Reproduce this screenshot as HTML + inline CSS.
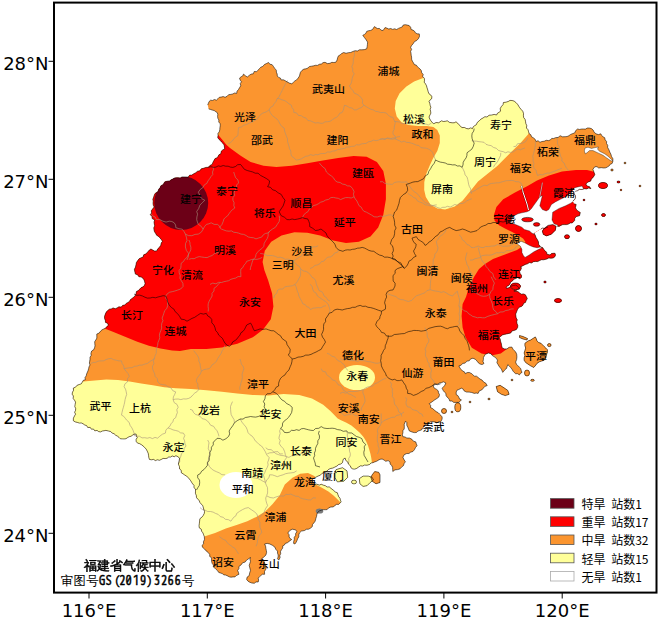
<!DOCTYPE html>
<html><head><meta charset="utf-8"><style>
html,body{margin:0;padding:0;background:#fff;}
svg{display:block;}
text{font-family:"Noto Sans CJK SC","WenQuanYi Zen Hei",sans-serif;font-size:11px;font-weight:500;fill:#000;}
.ax{font-family:"DejaVu Sans","Liberation Sans",sans-serif;font-size:18px;font-weight:normal;fill:#000;}
.lg{font-family:"Noto Sans CJK SC",sans-serif;font-size:12px;font-weight:normal;}
.t1{font-family:"WenQuanYi Zen Hei",sans-serif;font-size:13px;font-weight:normal;stroke:#000;stroke-width:0.5px;}
.t2{font-family:"WenQuanYi Zen Hei Mono","WenQuanYi Zen Hei",sans-serif;font-size:12.5px;font-weight:normal;}
</style></head><body>
<svg width="670" height="621" viewBox="0 0 670 621">
<defs><clipPath id="land"><path d="M207.7,105.0 L208.4,103.2 L209.1,101.5 L210.6,100.2 L212.5,100.5 L214.5,99.5 L216.4,100.2 L217.9,98.8 L219.3,97.3 L221.2,97.1 L223.2,96.5 L225.1,97.3 L227.0,96.3 L228.6,94.7 L230.9,94.4 L232.8,94.0 L234.6,93.0 L236.7,93.4 L237.0,91.2 L238.5,89.5 L239.6,87.6 L240.8,85.8 L240.3,83.5 L241.5,81.8 L240.1,80.1 L239.6,78.0 L241.1,76.8 L242.7,75.9 L243.5,74.1 L245.3,75.7 L247.3,77.0 L249.2,75.4 L251.2,74.1 L253.3,73.8 L254.2,71.5 L256.6,71.7 L258.0,70.2 L259.4,68.7 L260.8,67.2 L262.8,66.4 L264.4,64.6 L266.5,63.5 L268.6,62.5 L269.9,64.2 L272.1,64.7 L273.4,66.4 L274.7,68.4 L276.3,70.2 L276.4,72.2 L277.2,74.0 L277.3,76.0 L278.5,77.4 L280.4,78.1 L281.2,79.9 L283.4,79.8 L285.2,80.7 L287.0,81.8 L289.3,83.1 L291.8,83.8 L293.3,82.4 L294.8,81.0 L296.6,79.9 L298.2,78.0 L299.5,76.0 L299.9,74.1 L300.5,72.2 L302.0,70.4 L303.9,69.1 L306.0,68.8 L307.9,68.0 L309.5,66.5 L311.6,66.2 L313.6,65.8 L315.5,65.3 L317.5,65.4 L319.3,64.3 L321.4,64.0 L323.1,62.6 L325.1,62.3 L327.4,63.6 L330.0,63.3 L331.8,62.3 L333.8,62.5 L335.7,62.3 L337.1,60.1 L337.7,57.5 L338.5,55.8 L340.2,54.9 L341.5,53.6 L343.7,52.5 L346.1,53.3 L348.3,52.7 L350.7,52.5 L352.9,51.5 L355.1,50.7 L357.4,51.0 L359.5,49.8 L361.8,49.8 L364.3,49.6 L366.7,48.8 L367.2,46.6 L367.4,44.4 L367.6,42.1 L365.7,39.2 L364.2,37.3 L362.8,35.3 L364.5,34.4 L365.9,33.2 L366.7,31.4 L368.6,30.7 L370.6,30.4 L372.5,29.5 L374.4,26.6 L377.3,28.5 L379.5,28.5 L381.1,30.2 L383.1,30.5 L385.0,27.6 L386.9,28.1 L388.7,29.0 L390.8,28.5 L392.6,29.4 L394.7,28.8 L396.6,29.5 L398.5,28.4 L400.5,27.6 L402.2,26.9 L403.3,25.0 L405.3,24.7 L407.3,25.1 L409.2,25.6 L410.7,27.3 L411.1,29.5 L413.0,30.1 L414.5,31.2 L415.5,32.9 L417.3,33.8 L419.3,33.9 L419.5,36.4 L418.4,38.7 L416.7,40.5 L414.5,41.6 L413.2,43.7 L411.6,45.5 L410.6,47.3 L411.6,49.5 L410.6,51.3 L411.0,53.2 L411.2,55.2 L411.6,57.1 L411.6,59.2 L412.4,61.1 L413.5,62.9 L414.4,64.6 L416.4,65.2 L417.4,66.7 L418.8,67.9 L420.2,69.1 L421.3,70.6 L421.7,72.8 L423.2,74.4 L422.7,76.5 L424.3,78.2 L424.5,80.2 L424.2,82.2 L425.6,83.9 L426.5,85.9 L427.1,88.0 L427.8,89.9 L428.2,91.9 L429.0,93.8 L430.7,95.0 L431.9,96.7 L431.6,98.7 L430.1,100.0 L429.0,101.5 L429.8,103.4 L430.2,105.4 L430.9,107.3 L430.1,109.2 L430.6,111.2 L430.9,113.1 L429.9,115.0 L429.0,117.0 L429.8,119.0 L430.9,120.8 L432.1,122.5 L433.8,123.7 L436.1,122.5 L438.6,122.8 L441.5,120.8 L443.4,121.5 L445.4,121.3 L447.3,120.8 L449.5,122.4 L452.2,122.8 L454.2,122.8 L456.0,121.8 L457.6,123.1 L458.9,124.7 L460.5,126.0 L461.8,127.6 L464.4,127.4 L466.7,128.6 L468.6,128.8 L470.6,127.9 L472.5,128.6 L473.2,126.8 L474.7,125.7 L476.3,124.7 L477.3,122.4 L479.2,120.8 L481.0,119.1 L483.1,117.9 L484.9,116.7 L487.0,117.0 L489.1,115.2 L491.8,115.0 L494.2,114.4 L496.6,115.0 L497.4,113.2 L499.0,112.3 L500.5,111.2 L500.2,108.6 L501.5,106.3 L503.0,104.7 L503.4,102.5 L505.8,102.2 L508.2,101.5 L510.0,100.4 L512.1,100.5 L514.2,101.1 L515.9,102.5 L517.6,104.2 L518.8,106.3 L519.7,107.7 L521.2,109.5 L522.8,111.2 L523.5,113.5 L523.4,115.6 L523.7,117.6 L525.1,119.3 L525.5,121.3 L525.8,123.5 L526.8,125.7 L526.4,128.0 L528.0,129.6 L528.6,131.8 L529.3,133.8 L530.9,134.8 L531.5,136.8 L533.2,137.7 L535.1,139.2 L536.1,141.5 L538.0,140.7 L540.0,142.3 L541.9,141.5 L544.1,141.2 L546.3,140.3 L548.6,140.6 L550.3,139.9 L551.7,138.4 L553.7,138.5 L555.4,137.7 L558.1,137.4 L560.2,135.7 L562.5,136.8 L565.1,136.7 L567.1,136.5 L568.9,135.7 L570.7,134.4 L572.7,133.6 L574.7,132.9 L575.7,130.6 L577.6,129.0 L579.5,129.5 L581.5,129.1 L583.4,129.0 L585.4,129.1 L587.2,128.1 L589.2,128.0 L591.4,128.6 L593.1,130.0 L594.1,132.2 L596.0,133.8 L598.4,134.6 L600.8,133.8 L601.7,135.5 L603.0,136.8 L604.7,137.7 L605.2,139.8 L606.6,141.5 L606.5,143.5 L607.7,145.3 L607.6,147.3 L609.0,150.0 L609.8,152.1 L610.9,154.2 L611.5,156.4 L612.9,158.8 L612.8,161.6 L612.1,163.5 L610.3,164.2 L609.3,165.8 L607.7,166.8 L605.9,167.8 L603.8,168.0 L601.2,167.7 L598.7,168.0 L597.0,166.7 L594.8,166.8 L592.9,169.3 L594.1,172.6 L594.8,174.5 L593.9,176.2 L592.9,177.7 L591.3,178.9 L590.9,180.9 L587.7,182.2 L585.8,184.1 L587.2,186.1 L589.6,186.7 L590.9,188.7 L588.8,187.9 L586.6,188.9 L584.5,188.7 L582.0,189.5 L579.3,189.3 L577.6,190.7 L575.5,191.2 L574.2,193.8 L575.3,195.6 L575.5,197.7 L574.6,199.6 L572.9,200.9 L573.8,203.7 L576.2,204.5 L575.4,207.7 L576.4,209.4 L577.8,210.9 L580.3,212.5 L579.5,215.8 L576.2,216.6 L574.8,218.3 L574.6,220.6 L572.2,223.0 L570.2,223.0 L568.5,224.1 L566.6,224.6 L564.7,224.6 L562.7,224.6 L560.9,225.4 L559.1,226.4 L557.0,226.0 L548.0,227.0 L546.3,227.5 L544.6,228.5 L542.6,228.0 L541.0,229.0 L534.0,233.0 L535.2,235.2 L536.0,237.5 L537.4,239.7 L538.5,242.0 L538.5,244.3 L540.0,246.0 L540.4,246.9 L542.8,247.7 L543.8,249.5 L545.3,250.9 L546.6,252.3 L546.9,254.2 L550.1,255.0 L551.4,253.6 L553.3,253.3 L555.0,253.3 L555.5,255.0 L555.0,256.6 L553.2,257.9 L550.9,258.2 L548.8,257.9 L546.9,259.0 L543.6,259.8 L541.5,259.7 L539.6,260.6 L537.7,261.6 L535.6,261.4 L533.4,261.7 L531.6,263.0 L529.4,262.6 L527.5,263.8 L525.4,264.4 L523.5,265.4 L520.3,267.0 L521.5,267.7 L520.8,269.8 L519.6,271.6 L520.1,273.6 L521.5,275.3 L521.5,277.4 L519.8,278.7 L517.5,277.6 L515.7,278.6 L513.8,279.3 L512.5,280.9 L510.6,282.1 L509.9,284.2 L508.7,285.6 L506.9,286.3 L506.0,288.0 L508.1,288.1 L509.9,287.1 L511.7,286.0 L513.6,285.4 L515.7,285.1 L517.2,286.1 L518.6,287.4 L519.6,289.0 L517.6,289.5 L515.9,290.7 L513.8,290.9 L515.8,291.4 L517.9,291.6 L519.6,292.9 L521.3,294.2 L523.5,293.9 L525.4,294.8 L526.4,296.7 L527.3,298.6 L526.2,300.5 L525.4,302.5 L523.6,303.3 L522.9,305.2 L521.5,306.4 L519.1,307.3 L517.6,309.3 L516.6,311.7 L515.7,314.1 L515.9,316.0 L516.2,318.0 L517.3,319.8 L516.7,321.8 L517.1,323.7 L517.8,325.6 L517.6,327.6 L516.2,329.7 L513.8,330.5 L511.9,331.0 L510.8,332.9 L508.9,333.4 L506.5,333.9 L504.1,334.4 L502.3,335.0 L500.9,336.2 L499.3,337.3 L500.2,339.1 L500.5,341.2 L501.2,343.1 L501.6,345.5 L502.2,347.9 L504.5,348.9 L507.0,348.9 L509.1,347.3 L511.8,347.0 L513.0,349.2 L514.2,350.6 L515.6,351.8 L516.7,354.2 L516.9,356.9 L516.6,359.6 L515.6,362.1 L516.5,364.2 L518.1,365.9 L519.4,367.2 L520.7,368.5 L521.2,370.5 L522.0,372.4 L520.4,373.4 L519.4,375.0 L517.7,373.7 L515.6,373.7 L514.2,372.5 L513.0,371.1 L511.9,369.0 L510.4,367.2 L509.1,365.9 L507.8,364.6 L507.1,366.5 L506.5,368.5 L505.0,369.6 L504.0,371.1 L502.7,372.4 L501.4,369.1 L500.0,367.6 L498.8,365.9 L497.9,364.3 L496.9,362.7 L497.5,360.1 L495.6,357.6 L494.0,356.6 L492.4,355.6 L490.9,353.7 L488.5,353.0 L485.3,354.3 L484.4,355.9 L483.4,357.6 L483.4,359.5 L483.0,361.6 L484.0,363.4 L482.1,364.6 L480.0,364.0 L478.2,362.7 L477.0,361.0 L475.6,359.5 L473.0,358.2 L470.7,358.9 L469.2,360.8 L466.8,361.1 L465.1,363.1 L462.7,363.4 L461.1,365.2 L458.9,365.9 L460.2,368.5 L461.5,369.7 L462.7,371.1 L464.5,371.9 L465.3,373.7 L467.1,372.6 L469.2,372.4 L471.8,373.7 L474.3,376.2 L476.5,376.2 L478.2,377.5 L480.0,379.0 L482.1,380.1 L483.7,382.1 L485.9,383.3 L487.2,385.6 L484.9,386.3 L483.3,388.2 L481.7,390.0 L479.4,390.8 L478.1,393.4 L476.2,393.0 L474.3,393.4 L471.8,392.5 L469.1,392.1 L466.4,392.0 L464.0,390.8 L463.2,389.0 L461.4,388.2 L458.8,389.5 L456.9,390.2 L456.2,392.1 L456.2,394.6 L457.8,395.6 L458.8,397.2 L459.6,399.0 L461.4,399.8 L460.2,401.2 L458.8,402.4 L456.2,402.4 L453.7,402.4 L452.0,401.0 L449.8,401.1 L449.0,398.8 L447.2,397.2 L446.0,395.5 L445.9,393.4 L444.6,392.2 L443.4,390.8 L442.1,388.2 L443.4,386.9 L444.6,385.6 L445.9,383.0 L443.4,381.8 L441.5,382.7 L439.5,383.0 L437.7,384.1 L435.6,384.3 L433.0,385.6 L434.3,388.2 L436.4,389.2 L438.2,390.8 L438.5,392.8 L439.5,394.6 L438.9,397.0 L436.9,398.5 L434.9,399.7 L433.0,401.1 L431.2,402.5 L429.2,403.7 L430.6,405.3 L430.5,407.5 L432.6,408.6 L434.3,410.1 L436.1,411.6 L438.2,412.7 L439.5,414.0 L440.8,415.3 L442.1,417.0 L442.1,419.1 L440.8,421.7 L438.6,421.6 L436.9,423.0 L435.1,421.9 L433.0,421.7 L430.8,421.6 L429.2,423.0 L427.5,424.3 L425.3,424.3 L424.2,426.4 L422.5,428.0 L421.7,429.8 L419.8,430.5 L417.9,431.1 L416.5,432.5 L414.2,432.6 L412.0,432.0 L409.3,430.9 L408.0,427.7 L406.8,425.2 L406.8,422.5 L405.5,421.2 L404.2,424.5 L404.3,426.8 L404.2,429.0 L402.9,430.7 L402.9,432.8 L402.4,434.8 L402.9,436.7 L405.0,437.0 L406.8,438.0 L409.5,438.1 L411.9,439.3 L413.4,441.2 L415.8,441.9 L416.3,443.8 L417.1,445.7 L415.5,447.5 L414.5,449.6 L412.9,451.5 L410.6,452.2 L408.9,453.6 L406.8,453.5 L404.2,454.7 L402.9,457.3 L404.2,460.0 L405.4,461.8 L404.1,463.6 L403.4,465.7 L401.5,467.1 L399.9,468.9 L397.6,469.6 L394.9,469.9 L392.8,471.5 L392.7,469.5 L392.6,467.6 L391.8,465.7 L390.2,464.1 L389.9,461.8 L388.1,460.6 L385.8,461.3 L384.0,460.0 L382.1,459.0 L380.0,459.3 L378.3,460.2 L376.6,461.3 L374.7,461.9 L373.0,462.7 L371.0,463.0 L369.6,464.5 L367.1,465.2 L364.4,465.1 L362.6,466.1 L360.6,465.8 L358.6,467.1 L356.7,468.4 L354.8,469.1 L352.8,469.0 L351.0,467.8 L350.3,465.8 L348.5,464.2 L347.7,461.9 L345.8,460.4 L345.1,458.0 L343.2,459.3 L342.5,462.6 L340.8,464.0 L338.7,464.5 L336.9,466.1 L334.8,467.1 L332.9,468.1 L330.9,468.4 L328.8,469.3 L327.1,470.9 L325.5,472.1 L323.6,472.6 L321.9,473.5 L320.2,475.3 L318.0,476.1 L315.5,477.4 L312.9,478.7 L312.0,481.0 L314.2,483.8 L316.8,484.2 L319.3,485.1 L321.2,484.3 L323.2,485.1 L325.3,485.7 L327.1,487.0 L329.3,486.9 L330.9,488.3 L333.5,490.3 L335.2,491.9 L337.4,492.8 L338.0,494.8 L338.7,496.7 L340.0,498.2 L340.4,500.1 L341.2,501.9 L338.7,504.4 L336.5,504.4 L334.8,505.7 L333.1,507.0 L330.9,507.0 L328.7,507.9 L327.1,509.6 L325.1,509.7 L323.2,509.6 L321.2,510.3 L319.3,510.9 L317.6,512.5 L316.8,514.7 L316.5,516.5 L315.9,518.2 L315.5,520.0 L315.0,521.4 L313.8,523.0 L312.5,524.5 L312.3,526.6 L310.6,528.1 L308.5,529.2 L306.4,529.3 L304.6,530.5 L301.4,531.1 L299.4,533.0 L298.8,534.9 L298.8,536.9 L297.6,538.8 L296.9,540.8 L296.0,542.5 L294.9,544.0 L293.6,543.4 L293.7,541.4 L294.3,539.5 L294.2,537.3 L295.6,535.6 L295.6,533.5 L296.9,531.8 L295.6,529.8 L292.3,529.2 L289.8,530.5 L287.8,533.0 L289.1,534.7 L289.1,536.9 L290.1,538.5 L291.7,539.5 L289.1,541.4 L287.4,542.8 L285.3,543.4 L284.4,545.1 L282.7,545.9 L282.7,548.1 L281.4,549.8 L280.5,551.6 L280.7,553.7 L279.8,555.5 L280.1,557.5 L278.8,560.1 L277.5,558.8 L278.1,557.0 L278.2,555.0 L277.5,553.1 L277.5,551.1 L275.8,549.4 L274.9,547.2 L272.4,545.3 L269.8,544.0 L267.2,543.4 L264.6,544.0 L265.6,546.1 L265.9,548.5 L266.3,550.4 L266.6,552.4 L265.9,555.0 L263.4,557.5 L260.8,559.5 L262.1,559.8 L263.8,560.9 L264.6,562.7 L265.1,564.8 L265.9,566.9 L265.9,569.1 L264.5,571.5 L264.6,574.3 L262.4,574.2 L260.8,575.6 L259.4,576.8 L258.2,578.1 L258.6,580.0 L258.2,582.0 L256.0,581.9 L254.3,583.3 L251.7,583.0 L249.2,582.0 L247.7,580.9 L246.6,579.4 L247.2,577.0 L249.2,575.6 L249.7,573.0 L250.5,570.4 L249.8,567.9 L249.2,565.3 L249.8,563.4 L250.5,561.4 L250.0,559.5 L250.5,557.5 L248.6,558.8 L246.6,560.1 L245.1,562.1 L242.7,562.7 L241.1,564.9 L238.9,566.5 L238.9,568.7 L237.6,570.4 L238.4,572.3 L238.9,574.3 L236.3,575.6 L235.0,576.9 L233.0,576.9 L231.0,577.2 L229.2,576.8 L227.5,575.9 L225.8,575.1 L223.9,574.9 L222.3,573.6 L220.5,573.0 L218.7,572.4 L217.7,570.8 L216.2,569.5 L214.9,568.1 L213.3,567.0 L213.5,565.1 L212.2,563.5 L211.7,561.8 L211.5,559.9 L211.7,557.8 L209.7,556.5 L209.7,554.5 L208.2,552.4 L206.1,550.9 L204.5,548.9 L202.5,547.3 L202.0,545.4 L203.7,543.8 L203.4,541.9 L204.5,539.4 L204.3,536.6 L203.6,534.7 L202.9,532.8 L201.6,531.2 L201.2,529.2 L199.3,527.9 L199.0,525.8 L199.3,523.4 L199.6,521.1 L199.9,518.7 L201.8,517.3 L203.2,515.4 L204.3,513.3 L204.6,511.4 L203.8,509.7 L203.4,507.9 L202.8,505.7 L201.3,504.1 L199.9,502.5 L199.3,500.6 L197.7,499.2 L196.5,497.5 L196.3,495.4 L195.4,493.3 L195.5,491.2 L195.5,489.0 L193.9,487.7 L194.0,485.4 L192.7,483.9 L191.6,482.3 L190.6,480.6 L189.4,479.0 L188.0,477.5 L186.6,476.1 L184.8,475.1 L183.2,473.9 L181.3,472.8 L181.2,470.3 L179.6,469.0 L179.4,466.5 L178.4,464.2 L178.8,462.2 L179.3,460.2 L179.6,458.2 L177.9,456.7 L175.9,455.7 L174.2,456.8 L172.2,455.9 L170.6,457.1 L168.7,457.0 L167.1,458.3 L165.2,458.6 L163.1,458.4 L161.4,459.4 L159.5,460.3 L157.3,459.8 L155.4,460.6 L153.6,459.4 L151.4,459.8 L149.4,459.4 L148.8,457.4 L148.6,455.3 L148.2,453.3 L147.2,451.1 L146.1,449.1 L144.5,447.3 L143.0,445.9 L141.4,444.7 L139.7,443.7 L137.5,443.1 L136.1,441.3 L136.1,439.3 L137.3,437.6 L136.3,435.9 L136.1,434.0 L134.2,434.2 L132.5,435.2 L131.0,436.3 L129.2,436.7 L127.6,437.6 L125.9,438.7 L124.1,438.9 L122.3,438.9 L120.4,438.8 L119.0,437.4 L117.4,436.1 L115.6,435.2 L114.1,433.8 L112.1,433.1 L110.7,431.6 L108.3,431.0 L105.9,430.4 L104.1,430.8 L102.3,431.1 L100.5,431.9 L98.6,431.6 L97.0,430.4 L94.8,430.9 L93.5,429.0 L91.4,429.2 L90.2,427.4 L87.7,427.5 L86.6,425.6 L84.8,425.0 L83.1,423.8 L81.4,423.0 L79.3,423.1 L77.3,422.4 L75.2,421.9 L73.3,420.7 L73.4,418.2 L74.5,415.9 L75.5,414.2 L74.6,412.2 L75.5,410.4 L75.7,408.6 L74.8,406.6 L75.1,404.4 L75.6,402.2 L74.5,400.2 L73.1,398.4 L73.4,396.0 L72.1,394.2 L72.5,392.2 L73.5,390.3 L73.3,388.1 L75.5,387.2 L77.1,385.3 L79.3,384.5 L81.2,383.8 L82.3,382.1 L83.4,380.3 L85.4,379.7 L85.0,377.6 L86.2,375.9 L86.6,374.0 L88.0,370.8 L88.6,368.8 L89.0,366.8 L90.0,365.0 L89.4,363.1 L89.7,361.1 L90.0,359.2 L90.0,357.2 L91.2,355.4 L90.9,353.4 L91.7,351.0 L93.8,349.6 L94.5,347.7 L95.0,345.8 L94.8,343.8 L94.7,341.7 L95.8,340.0 L96.8,338.1 L96.8,336.1 L96.8,334.0 L99.1,333.1 L100.6,331.1 L102.0,329.8 L103.8,329.0 L105.5,328.2 L106.8,326.6 L108.4,325.3 L107.5,323.2 L105.5,322.4 L105.3,320.4 L104.6,318.6 L104.5,316.6 L105.3,314.1 L106.4,311.8 L107.8,310.5 L109.3,309.2 L111.3,308.9 L113.1,307.9 L115.3,308.8 L117.1,307.9 L118.9,306.8 L121.2,307.1 L122.7,305.3 L124.8,305.0 L126.2,303.4 L128.0,302.5 L129.6,301.2 L130.5,299.5 L132.1,298.4 L133.5,297.3 L135.2,295.7 L136.0,293.7 L136.4,291.5 L138.3,290.6 L139.7,289.1 L141.2,287.6 L143.0,286.8 L144.3,285.6 L145.1,283.8 L144.7,281.8 L144.1,279.9 L142.9,278.2 L141.2,277.0 L138.9,276.7 L137.5,274.7 L135.4,274.1 L134.8,271.7 L134.4,269.3 L135.5,267.1 L136.0,264.8 L136.4,262.5 L137.7,260.6 L139.1,258.8 L141.2,257.7 L143.1,257.1 L143.7,254.8 L145.5,254.1 L147.0,252.9 L148.1,251.4 L149.4,250.1 L150.9,249.0 L152.7,250.0 L154.5,251.0 L156.7,250.9 L157.8,248.8 L159.6,247.1 L160.8,245.3 L161.2,243.1 L162.5,241.3 L161.1,239.3 L159.6,237.4 L158.2,236.2 L156.6,235.2 L155.7,233.5 L154.5,231.8 L154.0,229.8 L153.8,227.7 L154.7,225.9 L154.2,223.8 L154.0,221.9 L154.7,220.0 L152.2,218.6 L151.9,216.3 L150.3,214.7 L151.6,213.0 L151.3,210.8 L152.7,208.8 L154.2,207.0 L153.3,205.2 L153.0,203.2 L153.2,201.2 L152.8,199.2 L153.6,197.3 L154.2,195.4 L155.0,193.6 L156.4,192.5 L158.0,191.5 L158.6,189.4 L160.0,187.7 L160.9,185.7 L162.7,184.9 L163.8,183.4 L164.8,181.8 L167.2,181.2 L169.6,180.9 L171.1,179.8 L172.8,179.0 L174.4,178.0 L176.3,177.8 L178.3,177.7 L180.2,178.0 L182.0,176.9 L184.0,177.0 L186.0,177.0 L188.2,177.1 L189.7,175.1 L191.8,175.1 L193.7,173.8 L195.8,172.7 L197.6,171.2 L199.8,170.8 L201.2,168.8 L203.4,168.3 L205.8,167.4 L208.3,167.3 L209.9,165.5 L212.1,164.4 L212.9,162.4 L213.9,160.5 L215.0,158.6 L216.8,157.9 L218.0,156.5 L218.9,154.8 L220.8,153.8 L221.2,151.3 L222.7,149.9 L224.7,149.0 L224.4,147.0 L224.1,144.9 L222.8,143.2 L221.5,141.9 L220.3,140.5 L218.9,139.3 L217.7,137.5 L218.1,135.5 L217.9,133.5 L219.2,131.8 L219.8,129.8 L219.9,127.7 L220.2,125.7 L220.2,123.8 L218.7,122.0 L218.9,120.0 L217.9,118.3 L217.6,116.5 L217.8,114.6 L217.4,112.8 L215.8,111.7 L214.2,110.6 L212.3,110.1 L210.5,109.5 L208.7,108.9 Z M524.9,343.3 L528.1,340.9 L530.5,340.1 L532.9,338.5 L535.3,336.9 L536.2,338.5 L537.0,340.9 L538.6,342.5 L541.0,343.3 L542.6,344.9 L544.2,346.5 L545.8,348.1 L547.4,349.7 L547.4,352.2 L546.6,354.6 L545.8,357.8 L544.2,360.2 L541.8,361.0 L539.4,361.8 L537.0,363.4 L535.3,365.8 L533.7,367.5 L532.1,366.6 L530.5,365.8 L528.1,364.2 L525.7,362.6 L524.1,360.2 L524.1,357.8 L524.9,355.4 L524.1,353.0 L524.9,350.5 L525.7,348.1 L524.9,345.7 Z M336.1,469.6 L342.5,467.7 L347.0,470.9 L347.7,477.4 L343.8,481.2 L337.4,481.9 L334.8,477.4 L334.8,472.2 Z M359.3,478.7 L363.1,476.1 L368.3,476.1 L372.2,477.4 L373.5,480.0 L370.2,482.5 L367.0,485.7 L363.1,486.4 L359.9,483.8 Z M372.2,474.8 L374.7,471.6 L378.6,472.2 L380.0,474.8 L380.0,482.5 L376.0,483.8 L372.2,481.2 L370.9,477.4 Z M544.0,228.6 L548.0,225.4 L552.9,224.6 L556.1,226.2 L555.3,230.3 L551.3,234.3 L546.4,235.9 L543.2,234.3 L542.4,231.1 Z M519.5,335.5 L523.0,336.5 L527.5,338.5 L527.0,340.0 L523.0,339.0 L519.5,337.5 Z M496.2,386.5 L500.1,385.3 L504.0,387.8 L507.8,390.4 L509.1,394.3 L505.3,395.6 L501.4,394.3 L497.5,391.7 Z M521.7,219.6 a5.8,2.2 0 1,0 11.6,0 a5.8,2.2 0 1,0 -11.6,0 Z M533.4,224.4 a3.2,1.8 0 1,0 6.4,0 a3.2,1.8 0 1,0 -6.4,0 Z M598.5,185.5 a4.5,3 0 1,0 9,0 a4.5,3 0 1,0 -9,0 Z M575.5,228.5 a3,3 0 1,0 6,0 a3,3 0 1,0 -6,0 Z M564.5,236.7 a2.5,2 0 1,0 5,0 a2.5,2 0 1,0 -5,0 Z M547.5,345.1 a1.8,1.5 0 1,0 3.6,0 a1.8,1.5 0 1,0 -3.6,0 Z M524.5,373 a2.5,3 0 1,0 5,0 a2.5,3 0 1,0 -5,0 Z M454.8,407.3 a3,4.5 0 1,0 6,0 a3,4.5 0 1,0 -6,0 Z M441.5,411 a2.5,2.5 0 1,0 5,0 a2.5,2.5 0 1,0 -5,0 Z M351.5,482 a2.5,1.9 0 1,0 5,0 a2.5,1.9 0 1,0 -5,0 Z M554.5,300.5 a3.5,2 0 1,0 7,0 a3.5,2 0 1,0 -7,0 Z M510.5,286.3 a5,3.3 0 1,0 10,0 a5,3.3 0 1,0 -10,0 Z M617,182 a1.5,1 0 1,0 3,0 a1.5,1 0 1,0 -3,0 Z M601.5,215 a2,1.5 0 1,0 4,0 a2,1.5 0 1,0 -4,0 Z M610.8,170 a1.2,1 0 1,0 2.4,0 a1.2,1 0 1,0 -2.4,0 Z M624,163 a1,0.8 0 1,0 2,0 a1,0.8 0 1,0 -2,0 Z M543.8,282 a1.2,1 0 1,0 2.4,0 a1.2,1 0 1,0 -2.4,0 Z M530.7,380.3 a1.8,1 0 1,0 3.6,0 a1.8,1 0 1,0 -3.6,0 Z M511,380 a1,0.8 0 1,0 2,0 a1,0.8 0 1,0 -2,0 Z M469,402 a1,0.8 0 1,0 2,0 a1,0.8 0 1,0 -2,0 Z M487.8,399 a1.2,0.8 0 1,0 2.4,0 a1.2,0.8 0 1,0 -2.4,0 Z M451,412 a1,0.8 0 1,0 2,0 a1,0.8 0 1,0 -2,0 Z M639,186 a1,0.8 0 1,0 2,0 a1,0.8 0 1,0 -2,0 Z M620.2,190 a0.8,0.8 0 1,0 1.6,0 a0.8,0.8 0 1,0 -1.6,0 Z M583,200 a1,0.8 0 1,0 2,0 a1,0.8 0 1,0 -2,0 Z M594.8,224 a1.2,0.9 0 1,0 2.4,0 a1.2,0.9 0 1,0 -2.4,0 Z"/></clipPath><clipPath id="main"><path d="M207.7,105.0 L208.4,103.2 L209.1,101.5 L210.6,100.2 L212.5,100.5 L214.5,99.5 L216.4,100.2 L217.9,98.8 L219.3,97.3 L221.2,97.1 L223.2,96.5 L225.1,97.3 L227.0,96.3 L228.6,94.7 L230.9,94.4 L232.8,94.0 L234.6,93.0 L236.7,93.4 L237.0,91.2 L238.5,89.5 L239.6,87.6 L240.8,85.8 L240.3,83.5 L241.5,81.8 L240.1,80.1 L239.6,78.0 L241.1,76.8 L242.7,75.9 L243.5,74.1 L245.3,75.7 L247.3,77.0 L249.2,75.4 L251.2,74.1 L253.3,73.8 L254.2,71.5 L256.6,71.7 L258.0,70.2 L259.4,68.7 L260.8,67.2 L262.8,66.4 L264.4,64.6 L266.5,63.5 L268.6,62.5 L269.9,64.2 L272.1,64.7 L273.4,66.4 L274.7,68.4 L276.3,70.2 L276.4,72.2 L277.2,74.0 L277.3,76.0 L278.5,77.4 L280.4,78.1 L281.2,79.9 L283.4,79.8 L285.2,80.7 L287.0,81.8 L289.3,83.1 L291.8,83.8 L293.3,82.4 L294.8,81.0 L296.6,79.9 L298.2,78.0 L299.5,76.0 L299.9,74.1 L300.5,72.2 L302.0,70.4 L303.9,69.1 L306.0,68.8 L307.9,68.0 L309.5,66.5 L311.6,66.2 L313.6,65.8 L315.5,65.3 L317.5,65.4 L319.3,64.3 L321.4,64.0 L323.1,62.6 L325.1,62.3 L327.4,63.6 L330.0,63.3 L331.8,62.3 L333.8,62.5 L335.7,62.3 L337.1,60.1 L337.7,57.5 L338.5,55.8 L340.2,54.9 L341.5,53.6 L343.7,52.5 L346.1,53.3 L348.3,52.7 L350.7,52.5 L352.9,51.5 L355.1,50.7 L357.4,51.0 L359.5,49.8 L361.8,49.8 L364.3,49.6 L366.7,48.8 L367.2,46.6 L367.4,44.4 L367.6,42.1 L365.7,39.2 L364.2,37.3 L362.8,35.3 L364.5,34.4 L365.9,33.2 L366.7,31.4 L368.6,30.7 L370.6,30.4 L372.5,29.5 L374.4,26.6 L377.3,28.5 L379.5,28.5 L381.1,30.2 L383.1,30.5 L385.0,27.6 L386.9,28.1 L388.7,29.0 L390.8,28.5 L392.6,29.4 L394.7,28.8 L396.6,29.5 L398.5,28.4 L400.5,27.6 L402.2,26.9 L403.3,25.0 L405.3,24.7 L407.3,25.1 L409.2,25.6 L410.7,27.3 L411.1,29.5 L413.0,30.1 L414.5,31.2 L415.5,32.9 L417.3,33.8 L419.3,33.9 L419.5,36.4 L418.4,38.7 L416.7,40.5 L414.5,41.6 L413.2,43.7 L411.6,45.5 L410.6,47.3 L411.6,49.5 L410.6,51.3 L411.0,53.2 L411.2,55.2 L411.6,57.1 L411.6,59.2 L412.4,61.1 L413.5,62.9 L414.4,64.6 L416.4,65.2 L417.4,66.7 L418.8,67.9 L420.2,69.1 L421.3,70.6 L421.7,72.8 L423.2,74.4 L422.7,76.5 L424.3,78.2 L424.5,80.2 L424.2,82.2 L425.6,83.9 L426.5,85.9 L427.1,88.0 L427.8,89.9 L428.2,91.9 L429.0,93.8 L430.7,95.0 L431.9,96.7 L431.6,98.7 L430.1,100.0 L429.0,101.5 L429.8,103.4 L430.2,105.4 L430.9,107.3 L430.1,109.2 L430.6,111.2 L430.9,113.1 L429.9,115.0 L429.0,117.0 L429.8,119.0 L430.9,120.8 L432.1,122.5 L433.8,123.7 L436.1,122.5 L438.6,122.8 L441.5,120.8 L443.4,121.5 L445.4,121.3 L447.3,120.8 L449.5,122.4 L452.2,122.8 L454.2,122.8 L456.0,121.8 L457.6,123.1 L458.9,124.7 L460.5,126.0 L461.8,127.6 L464.4,127.4 L466.7,128.6 L468.6,128.8 L470.6,127.9 L472.5,128.6 L473.2,126.8 L474.7,125.7 L476.3,124.7 L477.3,122.4 L479.2,120.8 L481.0,119.1 L483.1,117.9 L484.9,116.7 L487.0,117.0 L489.1,115.2 L491.8,115.0 L494.2,114.4 L496.6,115.0 L497.4,113.2 L499.0,112.3 L500.5,111.2 L500.2,108.6 L501.5,106.3 L503.0,104.7 L503.4,102.5 L505.8,102.2 L508.2,101.5 L510.0,100.4 L512.1,100.5 L514.2,101.1 L515.9,102.5 L517.6,104.2 L518.8,106.3 L519.7,107.7 L521.2,109.5 L522.8,111.2 L523.5,113.5 L523.4,115.6 L523.7,117.6 L525.1,119.3 L525.5,121.3 L525.8,123.5 L526.8,125.7 L526.4,128.0 L528.0,129.6 L528.6,131.8 L529.3,133.8 L530.9,134.8 L531.5,136.8 L533.2,137.7 L535.1,139.2 L536.1,141.5 L538.0,140.7 L540.0,142.3 L541.9,141.5 L544.1,141.2 L546.3,140.3 L548.6,140.6 L550.3,139.9 L551.7,138.4 L553.7,138.5 L555.4,137.7 L558.1,137.4 L560.2,135.7 L562.5,136.8 L565.1,136.7 L567.1,136.5 L568.9,135.7 L570.7,134.4 L572.7,133.6 L574.7,132.9 L575.7,130.6 L577.6,129.0 L579.5,129.5 L581.5,129.1 L583.4,129.0 L585.4,129.1 L587.2,128.1 L589.2,128.0 L591.4,128.6 L593.1,130.0 L594.1,132.2 L596.0,133.8 L598.4,134.6 L600.8,133.8 L601.7,135.5 L603.0,136.8 L604.7,137.7 L605.2,139.8 L606.6,141.5 L606.5,143.5 L607.7,145.3 L607.6,147.3 L609.0,150.0 L609.8,152.1 L610.9,154.2 L611.5,156.4 L612.9,158.8 L612.8,161.6 L612.1,163.5 L610.3,164.2 L609.3,165.8 L607.7,166.8 L605.9,167.8 L603.8,168.0 L601.2,167.7 L598.7,168.0 L597.0,166.7 L594.8,166.8 L592.9,169.3 L594.1,172.6 L594.8,174.5 L593.9,176.2 L592.9,177.7 L591.3,178.9 L590.9,180.9 L587.7,182.2 L585.8,184.1 L587.2,186.1 L589.6,186.7 L590.9,188.7 L588.8,187.9 L586.6,188.9 L584.5,188.7 L582.0,189.5 L579.3,189.3 L577.6,190.7 L575.5,191.2 L574.2,193.8 L575.3,195.6 L575.5,197.7 L574.6,199.6 L572.9,200.9 L573.8,203.7 L576.2,204.5 L575.4,207.7 L576.4,209.4 L577.8,210.9 L580.3,212.5 L579.5,215.8 L576.2,216.6 L574.8,218.3 L574.6,220.6 L572.2,223.0 L570.2,223.0 L568.5,224.1 L566.6,224.6 L564.7,224.6 L562.7,224.6 L560.9,225.4 L559.1,226.4 L557.0,226.0 L548.0,227.0 L546.3,227.5 L544.6,228.5 L542.6,228.0 L541.0,229.0 L534.0,233.0 L535.2,235.2 L536.0,237.5 L537.4,239.7 L538.5,242.0 L538.5,244.3 L540.0,246.0 L540.4,246.9 L542.8,247.7 L543.8,249.5 L545.3,250.9 L546.6,252.3 L546.9,254.2 L550.1,255.0 L551.4,253.6 L553.3,253.3 L555.0,253.3 L555.5,255.0 L555.0,256.6 L553.2,257.9 L550.9,258.2 L548.8,257.9 L546.9,259.0 L543.6,259.8 L541.5,259.7 L539.6,260.6 L537.7,261.6 L535.6,261.4 L533.4,261.7 L531.6,263.0 L529.4,262.6 L527.5,263.8 L525.4,264.4 L523.5,265.4 L520.3,267.0 L521.5,267.7 L520.8,269.8 L519.6,271.6 L520.1,273.6 L521.5,275.3 L521.5,277.4 L519.8,278.7 L517.5,277.6 L515.7,278.6 L513.8,279.3 L512.5,280.9 L510.6,282.1 L509.9,284.2 L508.7,285.6 L506.9,286.3 L506.0,288.0 L508.1,288.1 L509.9,287.1 L511.7,286.0 L513.6,285.4 L515.7,285.1 L517.2,286.1 L518.6,287.4 L519.6,289.0 L517.6,289.5 L515.9,290.7 L513.8,290.9 L515.8,291.4 L517.9,291.6 L519.6,292.9 L521.3,294.2 L523.5,293.9 L525.4,294.8 L526.4,296.7 L527.3,298.6 L526.2,300.5 L525.4,302.5 L523.6,303.3 L522.9,305.2 L521.5,306.4 L519.1,307.3 L517.6,309.3 L516.6,311.7 L515.7,314.1 L515.9,316.0 L516.2,318.0 L517.3,319.8 L516.7,321.8 L517.1,323.7 L517.8,325.6 L517.6,327.6 L516.2,329.7 L513.8,330.5 L511.9,331.0 L510.8,332.9 L508.9,333.4 L506.5,333.9 L504.1,334.4 L502.3,335.0 L500.9,336.2 L499.3,337.3 L500.2,339.1 L500.5,341.2 L501.2,343.1 L501.6,345.5 L502.2,347.9 L504.5,348.9 L507.0,348.9 L509.1,347.3 L511.8,347.0 L513.0,349.2 L514.2,350.6 L515.6,351.8 L516.7,354.2 L516.9,356.9 L516.6,359.6 L515.6,362.1 L516.5,364.2 L518.1,365.9 L519.4,367.2 L520.7,368.5 L521.2,370.5 L522.0,372.4 L520.4,373.4 L519.4,375.0 L517.7,373.7 L515.6,373.7 L514.2,372.5 L513.0,371.1 L511.9,369.0 L510.4,367.2 L509.1,365.9 L507.8,364.6 L507.1,366.5 L506.5,368.5 L505.0,369.6 L504.0,371.1 L502.7,372.4 L501.4,369.1 L500.0,367.6 L498.8,365.9 L497.9,364.3 L496.9,362.7 L497.5,360.1 L495.6,357.6 L494.0,356.6 L492.4,355.6 L490.9,353.7 L488.5,353.0 L485.3,354.3 L484.4,355.9 L483.4,357.6 L483.4,359.5 L483.0,361.6 L484.0,363.4 L482.1,364.6 L480.0,364.0 L478.2,362.7 L477.0,361.0 L475.6,359.5 L473.0,358.2 L470.7,358.9 L469.2,360.8 L466.8,361.1 L465.1,363.1 L462.7,363.4 L461.1,365.2 L458.9,365.9 L460.2,368.5 L461.5,369.7 L462.7,371.1 L464.5,371.9 L465.3,373.7 L467.1,372.6 L469.2,372.4 L471.8,373.7 L474.3,376.2 L476.5,376.2 L478.2,377.5 L480.0,379.0 L482.1,380.1 L483.7,382.1 L485.9,383.3 L487.2,385.6 L484.9,386.3 L483.3,388.2 L481.7,390.0 L479.4,390.8 L478.1,393.4 L476.2,393.0 L474.3,393.4 L471.8,392.5 L469.1,392.1 L466.4,392.0 L464.0,390.8 L463.2,389.0 L461.4,388.2 L458.8,389.5 L456.9,390.2 L456.2,392.1 L456.2,394.6 L457.8,395.6 L458.8,397.2 L459.6,399.0 L461.4,399.8 L460.2,401.2 L458.8,402.4 L456.2,402.4 L453.7,402.4 L452.0,401.0 L449.8,401.1 L449.0,398.8 L447.2,397.2 L446.0,395.5 L445.9,393.4 L444.6,392.2 L443.4,390.8 L442.1,388.2 L443.4,386.9 L444.6,385.6 L445.9,383.0 L443.4,381.8 L441.5,382.7 L439.5,383.0 L437.7,384.1 L435.6,384.3 L433.0,385.6 L434.3,388.2 L436.4,389.2 L438.2,390.8 L438.5,392.8 L439.5,394.6 L438.9,397.0 L436.9,398.5 L434.9,399.7 L433.0,401.1 L431.2,402.5 L429.2,403.7 L430.6,405.3 L430.5,407.5 L432.6,408.6 L434.3,410.1 L436.1,411.6 L438.2,412.7 L439.5,414.0 L440.8,415.3 L442.1,417.0 L442.1,419.1 L440.8,421.7 L438.6,421.6 L436.9,423.0 L435.1,421.9 L433.0,421.7 L430.8,421.6 L429.2,423.0 L427.5,424.3 L425.3,424.3 L424.2,426.4 L422.5,428.0 L421.7,429.8 L419.8,430.5 L417.9,431.1 L416.5,432.5 L414.2,432.6 L412.0,432.0 L409.3,430.9 L408.0,427.7 L406.8,425.2 L406.8,422.5 L405.5,421.2 L404.2,424.5 L404.3,426.8 L404.2,429.0 L402.9,430.7 L402.9,432.8 L402.4,434.8 L402.9,436.7 L405.0,437.0 L406.8,438.0 L409.5,438.1 L411.9,439.3 L413.4,441.2 L415.8,441.9 L416.3,443.8 L417.1,445.7 L415.5,447.5 L414.5,449.6 L412.9,451.5 L410.6,452.2 L408.9,453.6 L406.8,453.5 L404.2,454.7 L402.9,457.3 L404.2,460.0 L405.4,461.8 L404.1,463.6 L403.4,465.7 L401.5,467.1 L399.9,468.9 L397.6,469.6 L394.9,469.9 L392.8,471.5 L392.7,469.5 L392.6,467.6 L391.8,465.7 L390.2,464.1 L389.9,461.8 L388.1,460.6 L385.8,461.3 L384.0,460.0 L382.1,459.0 L380.0,459.3 L378.3,460.2 L376.6,461.3 L374.7,461.9 L373.0,462.7 L371.0,463.0 L369.6,464.5 L367.1,465.2 L364.4,465.1 L362.6,466.1 L360.6,465.8 L358.6,467.1 L356.7,468.4 L354.8,469.1 L352.8,469.0 L351.0,467.8 L350.3,465.8 L348.5,464.2 L347.7,461.9 L345.8,460.4 L345.1,458.0 L343.2,459.3 L342.5,462.6 L340.8,464.0 L338.7,464.5 L336.9,466.1 L334.8,467.1 L332.9,468.1 L330.9,468.4 L328.8,469.3 L327.1,470.9 L325.5,472.1 L323.6,472.6 L321.9,473.5 L320.2,475.3 L318.0,476.1 L315.5,477.4 L312.9,478.7 L312.0,481.0 L314.2,483.8 L316.8,484.2 L319.3,485.1 L321.2,484.3 L323.2,485.1 L325.3,485.7 L327.1,487.0 L329.3,486.9 L330.9,488.3 L333.5,490.3 L335.2,491.9 L337.4,492.8 L338.0,494.8 L338.7,496.7 L340.0,498.2 L340.4,500.1 L341.2,501.9 L338.7,504.4 L336.5,504.4 L334.8,505.7 L333.1,507.0 L330.9,507.0 L328.7,507.9 L327.1,509.6 L325.1,509.7 L323.2,509.6 L321.2,510.3 L319.3,510.9 L317.6,512.5 L316.8,514.7 L316.5,516.5 L315.9,518.2 L315.5,520.0 L315.0,521.4 L313.8,523.0 L312.5,524.5 L312.3,526.6 L310.6,528.1 L308.5,529.2 L306.4,529.3 L304.6,530.5 L301.4,531.1 L299.4,533.0 L298.8,534.9 L298.8,536.9 L297.6,538.8 L296.9,540.8 L296.0,542.5 L294.9,544.0 L293.6,543.4 L293.7,541.4 L294.3,539.5 L294.2,537.3 L295.6,535.6 L295.6,533.5 L296.9,531.8 L295.6,529.8 L292.3,529.2 L289.8,530.5 L287.8,533.0 L289.1,534.7 L289.1,536.9 L290.1,538.5 L291.7,539.5 L289.1,541.4 L287.4,542.8 L285.3,543.4 L284.4,545.1 L282.7,545.9 L282.7,548.1 L281.4,549.8 L280.5,551.6 L280.7,553.7 L279.8,555.5 L280.1,557.5 L278.8,560.1 L277.5,558.8 L278.1,557.0 L278.2,555.0 L277.5,553.1 L277.5,551.1 L275.8,549.4 L274.9,547.2 L272.4,545.3 L269.8,544.0 L267.2,543.4 L264.6,544.0 L265.6,546.1 L265.9,548.5 L266.3,550.4 L266.6,552.4 L265.9,555.0 L263.4,557.5 L260.8,559.5 L262.1,559.8 L263.8,560.9 L264.6,562.7 L265.1,564.8 L265.9,566.9 L265.9,569.1 L264.5,571.5 L264.6,574.3 L262.4,574.2 L260.8,575.6 L259.4,576.8 L258.2,578.1 L258.6,580.0 L258.2,582.0 L256.0,581.9 L254.3,583.3 L251.7,583.0 L249.2,582.0 L247.7,580.9 L246.6,579.4 L247.2,577.0 L249.2,575.6 L249.7,573.0 L250.5,570.4 L249.8,567.9 L249.2,565.3 L249.8,563.4 L250.5,561.4 L250.0,559.5 L250.5,557.5 L248.6,558.8 L246.6,560.1 L245.1,562.1 L242.7,562.7 L241.1,564.9 L238.9,566.5 L238.9,568.7 L237.6,570.4 L238.4,572.3 L238.9,574.3 L236.3,575.6 L235.0,576.9 L233.0,576.9 L231.0,577.2 L229.2,576.8 L227.5,575.9 L225.8,575.1 L223.9,574.9 L222.3,573.6 L220.5,573.0 L218.7,572.4 L217.7,570.8 L216.2,569.5 L214.9,568.1 L213.3,567.0 L213.5,565.1 L212.2,563.5 L211.7,561.8 L211.5,559.9 L211.7,557.8 L209.7,556.5 L209.7,554.5 L208.2,552.4 L206.1,550.9 L204.5,548.9 L202.5,547.3 L202.0,545.4 L203.7,543.8 L203.4,541.9 L204.5,539.4 L204.3,536.6 L203.6,534.7 L202.9,532.8 L201.6,531.2 L201.2,529.2 L199.3,527.9 L199.0,525.8 L199.3,523.4 L199.6,521.1 L199.9,518.7 L201.8,517.3 L203.2,515.4 L204.3,513.3 L204.6,511.4 L203.8,509.7 L203.4,507.9 L202.8,505.7 L201.3,504.1 L199.9,502.5 L199.3,500.6 L197.7,499.2 L196.5,497.5 L196.3,495.4 L195.4,493.3 L195.5,491.2 L195.5,489.0 L193.9,487.7 L194.0,485.4 L192.7,483.9 L191.6,482.3 L190.6,480.6 L189.4,479.0 L188.0,477.5 L186.6,476.1 L184.8,475.1 L183.2,473.9 L181.3,472.8 L181.2,470.3 L179.6,469.0 L179.4,466.5 L178.4,464.2 L178.8,462.2 L179.3,460.2 L179.6,458.2 L177.9,456.7 L175.9,455.7 L174.2,456.8 L172.2,455.9 L170.6,457.1 L168.7,457.0 L167.1,458.3 L165.2,458.6 L163.1,458.4 L161.4,459.4 L159.5,460.3 L157.3,459.8 L155.4,460.6 L153.6,459.4 L151.4,459.8 L149.4,459.4 L148.8,457.4 L148.6,455.3 L148.2,453.3 L147.2,451.1 L146.1,449.1 L144.5,447.3 L143.0,445.9 L141.4,444.7 L139.7,443.7 L137.5,443.1 L136.1,441.3 L136.1,439.3 L137.3,437.6 L136.3,435.9 L136.1,434.0 L134.2,434.2 L132.5,435.2 L131.0,436.3 L129.2,436.7 L127.6,437.6 L125.9,438.7 L124.1,438.9 L122.3,438.9 L120.4,438.8 L119.0,437.4 L117.4,436.1 L115.6,435.2 L114.1,433.8 L112.1,433.1 L110.7,431.6 L108.3,431.0 L105.9,430.4 L104.1,430.8 L102.3,431.1 L100.5,431.9 L98.6,431.6 L97.0,430.4 L94.8,430.9 L93.5,429.0 L91.4,429.2 L90.2,427.4 L87.7,427.5 L86.6,425.6 L84.8,425.0 L83.1,423.8 L81.4,423.0 L79.3,423.1 L77.3,422.4 L75.2,421.9 L73.3,420.7 L73.4,418.2 L74.5,415.9 L75.5,414.2 L74.6,412.2 L75.5,410.4 L75.7,408.6 L74.8,406.6 L75.1,404.4 L75.6,402.2 L74.5,400.2 L73.1,398.4 L73.4,396.0 L72.1,394.2 L72.5,392.2 L73.5,390.3 L73.3,388.1 L75.5,387.2 L77.1,385.3 L79.3,384.5 L81.2,383.8 L82.3,382.1 L83.4,380.3 L85.4,379.7 L85.0,377.6 L86.2,375.9 L86.6,374.0 L88.0,370.8 L88.6,368.8 L89.0,366.8 L90.0,365.0 L89.4,363.1 L89.7,361.1 L90.0,359.2 L90.0,357.2 L91.2,355.4 L90.9,353.4 L91.7,351.0 L93.8,349.6 L94.5,347.7 L95.0,345.8 L94.8,343.8 L94.7,341.7 L95.8,340.0 L96.8,338.1 L96.8,336.1 L96.8,334.0 L99.1,333.1 L100.6,331.1 L102.0,329.8 L103.8,329.0 L105.5,328.2 L106.8,326.6 L108.4,325.3 L107.5,323.2 L105.5,322.4 L105.3,320.4 L104.6,318.6 L104.5,316.6 L105.3,314.1 L106.4,311.8 L107.8,310.5 L109.3,309.2 L111.3,308.9 L113.1,307.9 L115.3,308.8 L117.1,307.9 L118.9,306.8 L121.2,307.1 L122.7,305.3 L124.8,305.0 L126.2,303.4 L128.0,302.5 L129.6,301.2 L130.5,299.5 L132.1,298.4 L133.5,297.3 L135.2,295.7 L136.0,293.7 L136.4,291.5 L138.3,290.6 L139.7,289.1 L141.2,287.6 L143.0,286.8 L144.3,285.6 L145.1,283.8 L144.7,281.8 L144.1,279.9 L142.9,278.2 L141.2,277.0 L138.9,276.7 L137.5,274.7 L135.4,274.1 L134.8,271.7 L134.4,269.3 L135.5,267.1 L136.0,264.8 L136.4,262.5 L137.7,260.6 L139.1,258.8 L141.2,257.7 L143.1,257.1 L143.7,254.8 L145.5,254.1 L147.0,252.9 L148.1,251.4 L149.4,250.1 L150.9,249.0 L152.7,250.0 L154.5,251.0 L156.7,250.9 L157.8,248.8 L159.6,247.1 L160.8,245.3 L161.2,243.1 L162.5,241.3 L161.1,239.3 L159.6,237.4 L158.2,236.2 L156.6,235.2 L155.7,233.5 L154.5,231.8 L154.0,229.8 L153.8,227.7 L154.7,225.9 L154.2,223.8 L154.0,221.9 L154.7,220.0 L152.2,218.6 L151.9,216.3 L150.3,214.7 L151.6,213.0 L151.3,210.8 L152.7,208.8 L154.2,207.0 L153.3,205.2 L153.0,203.2 L153.2,201.2 L152.8,199.2 L153.6,197.3 L154.2,195.4 L155.0,193.6 L156.4,192.5 L158.0,191.5 L158.6,189.4 L160.0,187.7 L160.9,185.7 L162.7,184.9 L163.8,183.4 L164.8,181.8 L167.2,181.2 L169.6,180.9 L171.1,179.8 L172.8,179.0 L174.4,178.0 L176.3,177.8 L178.3,177.7 L180.2,178.0 L182.0,176.9 L184.0,177.0 L186.0,177.0 L188.2,177.1 L189.7,175.1 L191.8,175.1 L193.7,173.8 L195.8,172.7 L197.6,171.2 L199.8,170.8 L201.2,168.8 L203.4,168.3 L205.8,167.4 L208.3,167.3 L209.9,165.5 L212.1,164.4 L212.9,162.4 L213.9,160.5 L215.0,158.6 L216.8,157.9 L218.0,156.5 L218.9,154.8 L220.8,153.8 L221.2,151.3 L222.7,149.9 L224.7,149.0 L224.4,147.0 L224.1,144.9 L222.8,143.2 L221.5,141.9 L220.3,140.5 L218.9,139.3 L217.7,137.5 L218.1,135.5 L217.9,133.5 L219.2,131.8 L219.8,129.8 L219.9,127.7 L220.2,125.7 L220.2,123.8 L218.7,122.0 L218.9,120.0 L217.9,118.3 L217.6,116.5 L217.8,114.6 L217.4,112.8 L215.8,111.7 L214.2,110.6 L212.3,110.1 L210.5,109.5 L208.7,108.9 Z"/></clipPath></defs>
<rect width="670" height="621" fill="#fff"/>
<g clip-path="url(#land)">
<rect x="0" y="0" width="670" height="621" fill="#fb952f"/>
<path d="M423.8,77.7 L414.1,81.6 L406.4,86.4 L399.6,93.2 L395.7,100.9 L394.8,108.6 L396.7,116.4 L401.5,122.2 L408.3,125.1 L418.0,126.0 L426.7,126.0 L433.4,127.0 L437.3,129.9 L439.8,135.4 L439.8,143.0 L437.4,150.8 L433.0,158.5 L429.5,166.0 L426.3,173.8 L424.3,182.0 L424.2,190.0 L425.8,197.0 L430.6,204.7 L437.4,208.6 L445.1,209.5 L454.8,206.6 L462.5,200.8 L470.2,191.2 L478.0,181.5 L487.6,173.8 L497.3,166.0 L505.0,158.3 L512.8,150.6 L520.5,142.9 L528.2,134.2 L532.0,125.0 L532.0,60.0 L425.0,60.0 Z" fill="#ffff99"/>
<path d="M60.0,381.0 L83.2,381.4 L94.8,380.5 L106.4,379.5 L118.0,380.1 L129.6,381.4 L141.2,383.4 L152.8,385.3 L164.3,387.2 L175.9,388.2 L190.9,389.0 L206.4,390.2 L221.9,391.8 L237.3,393.5 L252.8,395.0 L268.2,395.5 L283.7,394.0 L299.2,395.0 L312.0,398.5 L323.2,404.7 L330.4,411.0 L337.7,418.5 L341.0,420.2 L346.0,422.5 L351.4,425.5 L355.6,429.0 L359.8,432.8 L363.5,437.0 L366.1,441.2 L368.0,445.5 L369.2,449.5 L370.5,454.0 L371.3,457.9 L372.0,463.0 L371.0,472.0 L374.0,479.0 L373.0,486.0 L360.0,495.0 L345.0,503.0 L341.0,503.0 L337.4,499.3 L333.5,495.4 L328.4,491.5 L321.9,487.7 L315.5,484.5 L317.6,478.6 L313.8,475.7 L308.0,472.9 L300.2,473.8 L292.5,477.7 L284.8,484.4 L279.6,495.4 L272.4,504.3 L265.2,511.5 L256.3,516.9 L247.3,521.3 L236.6,524.9 L225.8,528.5 L215.1,533.0 L204.3,536.6 L190.0,540.0 L60.0,540.0 Z" fill="#ffff99"/>
<ellipse cx="357" cy="377.5" rx="18" ry="12.6" fill="#ffff99"/>
<path d="M60.0,330.0 L60.0,128.0 L212.0,128.0 L220.0,137.0 L226.6,145.1 L230.0,148.0 L240.3,155.5 L250.6,161.9 L263.5,165.8 L276.4,167.0 L291.9,165.8 L307.3,163.2 L322.8,160.6 L338.2,158.0 L353.7,156.0 L366.6,156.8 L376.9,161.9 L383.3,170.9 L385.9,183.8 L385.9,199.3 L383.3,214.7 L378.2,227.6 L370.5,236.6 L358.9,241.8 L346.0,243.1 L333.1,240.5 L320.2,235.4 L307.3,232.8 L294.4,232.3 L281.5,235.4 L271.2,241.8 L264.8,250.8 L262.6,262.0 L264.4,270.3 L268.2,280.6 L272.1,293.5 L273.4,306.4 L270.8,319.3 L263.1,329.6 L252.8,337.3 L237.3,343.8 L221.9,347.6 L206.4,348.9 L190.9,348.9 L180.0,351.0 L172.1,350.5 L160.5,348.6 L148.9,345.7 L137.3,341.8 L125.7,337.0 L114.1,332.2 L101.5,327.3 Z" fill="#fe0000"/>
<path d="M640.0,172.0 L593.0,171.5 L587.0,170.0 L576.0,170.0 L562.0,171.5 L549.0,175.4 L537.0,180.5 L528.0,185.8 L515.0,192.6 L503.2,199.3 L496.4,207.1 L494.0,214.8 L494.5,220.5 L499.0,225.2 L505.0,228.5 L511.7,231.7 L518.0,235.2 L523.0,238.5 L525.5,242.0 L523.0,246.0 L517.0,250.0 L509.0,253.0 L501.0,256.0 L493.0,259.0 L485.0,264.0 L479.0,269.0 L474.0,277.0 L469.0,287.0 L466.0,297.0 L462.6,304.0 L461.6,316.0 L462.6,327.6 L465.5,337.3 L471.8,347.7 L481.5,353.5 L491.2,355.5 L500.8,353.5 L508.5,347.7 L512.4,341.9 L516.0,335.0 L560.0,330.0 L640.0,250.0 Z" fill="#fe0000"/>
<circle cx="181.2" cy="203" r="27" fill="#6c0017"/>
<ellipse cx="236" cy="485" rx="16.5" ry="13" fill="#fff"/>
</g>
<g clip-path="url(#main)"><path d="M510.0,222.5 L512.7,216.5 L517.9,213.8 L521.8,212.8 L526.9,211.8 L529.5,210.6 L531.5,208.5 L533.4,205.8 L537.2,200.6 L539.8,196.8 L542.4,195.5 L541.1,200.6 L539.8,205.8 L542.4,209.6 L546.2,210.9 L548.8,209.6 L551.4,204.5 L555.3,201.9 L560.4,199.3 L565.6,196.8 L570.7,192.9 L574.6,187.7 L582.0,186.0 L590.0,200.0 L577.2,198.0 L574.6,200.6 L570.7,203.2 L565.6,205.8 L559.1,208.4 L552.7,212.2 L552.0,220.0 L554.0,223.8 L557.8,225.1 L560.0,232.0 L545.0,232.0 L537.0,236.0 L534.0,234.0 L532.0,233.2 L529.5,231.0 L524.3,229.5 L521.8,227.2 L516.6,225.0 Z M517.1,242.9 L521.1,241.3 L525.1,242.9 L529.2,245.3 L533.2,246.9 L537.2,247.7 L540.4,246.9 L542.8,247.7 L538.8,249.3 L534.0,251.7 L529.2,255.0 L525.1,257.4 L523.5,255.8 L521.9,252.5 L521.9,249.3 L520.3,246.1 L517.9,244.5 Z M585.0,148.0 L588.0,147.2 L591.5,148.4 L595.0,147.6 L598.5,147.0 L597.5,149.0 L599.5,151.3 L602.0,152.4 L605.0,154.0 L608.0,156.2 L611.0,159.0 L612.5,160.3 L612.5,161.3 L610.5,160.6 L607.0,158.2 L603.0,155.3 L599.0,153.4 L596.0,152.0 L593.0,150.6 L589.5,150.6 L587.0,152.8 L585.3,153.8 L584.3,151.0 Z" fill="#fff" stroke="#000" stroke-opacity="0.5" stroke-width="0.7"/>
<polyline points="521.5,186 523,192 525,198 527,204 528.5,210" fill="none" stroke="#000" stroke-opacity="0.45" stroke-width="2"/><polyline points="521.5,186 523,192 525,198 527,204 528.5,210" fill="none" stroke="#fff" stroke-width="1"/><polyline points="542.4,182.6 541.5,188 540.5,193 539.8,197" fill="none" stroke="#000" stroke-opacity="0.4" stroke-width="1.5"/><polyline points="542.4,182.6 541.5,188 540.5,193 539.8,197" fill="none" stroke="#fff" stroke-width="0.6"/></g>
<path d="M524.9,343.3 L528.1,340.9 L530.5,340.1 L532.9,338.5 L535.3,336.9 L536.2,338.5 L537.0,340.9 L538.6,342.5 L541.0,343.3 L542.6,344.9 L544.2,346.5 L545.8,348.1 L547.4,349.7 L547.4,352.2 L546.6,354.6 L545.8,357.8 L544.2,360.2 L541.8,361.0 L539.4,361.8 L537.0,363.4 L535.3,365.8 L533.7,367.5 L532.1,366.6 L530.5,365.8 L528.1,364.2 L525.7,362.6 L524.1,360.2 L524.1,357.8 L524.9,355.4 L524.1,353.0 L524.9,350.5 L525.7,348.1 L524.9,345.7 Z" fill="#fb952f"/><path d="M336.1,469.6 L342.5,467.7 L347.0,470.9 L347.7,477.4 L343.8,481.2 L337.4,481.9 L334.8,477.4 L334.8,472.2 Z" fill="#ffff99"/><path d="M359.3,478.7 L363.1,476.1 L368.3,476.1 L372.2,477.4 L373.5,480.0 L370.2,482.5 L367.0,485.7 L363.1,486.4 L359.9,483.8 Z" fill="#ffff99"/><path d="M372.2,474.8 L374.7,471.6 L378.6,472.2 L380.0,474.8 L380.0,482.5 L376.0,483.8 L372.2,481.2 L370.9,477.4 Z" fill="#fb952f"/><path d="M544.0,228.6 L548.0,225.4 L552.9,224.6 L556.1,226.2 L555.3,230.3 L551.3,234.3 L546.4,235.9 L543.2,234.3 L542.4,231.1 Z" fill="#fe0000"/><path d="M519.5,335.5 L523.0,336.5 L527.5,338.5 L527.0,340.0 L523.0,339.0 L519.5,337.5 Z" fill="#fb952f"/><path d="M496.2,386.5 L500.1,385.3 L504.0,387.8 L507.8,390.4 L509.1,394.3 L505.3,395.6 L501.4,394.3 L497.5,391.7 Z" fill="#fb952f"/><path d="M521.7,219.6 a5.8,2.2 0 1,0 11.6,0 a5.8,2.2 0 1,0 -11.6,0 Z" fill="#fe0000"/><path d="M533.4,224.4 a3.2,1.8 0 1,0 6.4,0 a3.2,1.8 0 1,0 -6.4,0 Z" fill="#fe0000"/><path d="M598.5,185.5 a4.5,3 0 1,0 9,0 a4.5,3 0 1,0 -9,0 Z" fill="#fe0000"/><path d="M575.5,228.5 a3,3 0 1,0 6,0 a3,3 0 1,0 -6,0 Z" fill="#fe0000"/><path d="M564.5,236.7 a2.5,2 0 1,0 5,0 a2.5,2 0 1,0 -5,0 Z" fill="#fe0000"/><path d="M547.5,345.1 a1.8,1.5 0 1,0 3.6,0 a1.8,1.5 0 1,0 -3.6,0 Z" fill="#fb952f"/><path d="M524.5,373 a2.5,3 0 1,0 5,0 a2.5,3 0 1,0 -5,0 Z" fill="#fb952f"/><path d="M454.8,407.3 a3,4.5 0 1,0 6,0 a3,4.5 0 1,0 -6,0 Z" fill="#fb952f"/><path d="M441.5,411 a2.5,2.5 0 1,0 5,0 a2.5,2.5 0 1,0 -5,0 Z" fill="#fb952f"/><path d="M351.5,482 a2.5,1.9 0 1,0 5,0 a2.5,1.9 0 1,0 -5,0 Z" fill="#ffff99"/><path d="M554.5,300.5 a3.5,2 0 1,0 7,0 a3.5,2 0 1,0 -7,0 Z" fill="#fe0000"/><path d="M510.5,286.3 a5,3.3 0 1,0 10,0 a5,3.3 0 1,0 -10,0 Z" fill="#fe0000"/><path d="M617,182 a1.5,1 0 1,0 3,0 a1.5,1 0 1,0 -3,0 Z" fill="#fe0000"/><path d="M601.5,215 a2,1.5 0 1,0 4,0 a2,1.5 0 1,0 -4,0 Z" fill="#fe0000"/><path d="M610.8,170 a1.2,1 0 1,0 2.4,0 a1.2,1 0 1,0 -2.4,0 Z" fill="#fb952f"/><path d="M624,163 a1,0.8 0 1,0 2,0 a1,0.8 0 1,0 -2,0 Z" fill="#fb952f"/><path d="M543.8,282 a1.2,1 0 1,0 2.4,0 a1.2,1 0 1,0 -2.4,0 Z" fill="#fe0000"/><path d="M530.7,380.3 a1.8,1 0 1,0 3.6,0 a1.8,1 0 1,0 -3.6,0 Z" fill="#fb952f"/><path d="M511,380 a1,0.8 0 1,0 2,0 a1,0.8 0 1,0 -2,0 Z" fill="#fb952f"/><path d="M469,402 a1,0.8 0 1,0 2,0 a1,0.8 0 1,0 -2,0 Z" fill="#fb952f"/><path d="M487.8,399 a1.2,0.8 0 1,0 2.4,0 a1.2,0.8 0 1,0 -2.4,0 Z" fill="#fb952f"/><path d="M451,412 a1,0.8 0 1,0 2,0 a1,0.8 0 1,0 -2,0 Z" fill="#fb952f"/><path d="M639,186 a1,0.8 0 1,0 2,0 a1,0.8 0 1,0 -2,0 Z" fill="#fb952f"/><path d="M620.2,190 a0.8,0.8 0 1,0 1.6,0 a0.8,0.8 0 1,0 -1.6,0 Z" fill="#fb952f"/><path d="M583,200 a1,0.8 0 1,0 2,0 a1,0.8 0 1,0 -2,0 Z" fill="#fe0000"/><path d="M594.8,224 a1.2,0.9 0 1,0 2.4,0 a1.2,0.9 0 1,0 -2.4,0 Z" fill="#fe0000"/>
<ellipse cx="319.5" cy="511" rx="3.8" ry="2.6" fill="#7a7a7a"/>
<g fill="none" stroke-linejoin="round"><path d="M228.2,143.7 L230.5,142.6 L232.3,140.9 L233.9,138.8 L235.6,137.0 L237.8,135.7 L238.1,133.0 L238.2,130.3 L238.6,127.6 L241.5,127.0 L243.9,125.1 L246.7,124.4 L249.4,123.0 L252.2,121.9 L254.8,120.4 L257.3,119.1 L258.8,116.8 L260.5,114.6 L262.8,113.1 L266.2,111.9 L269.2,109.9" stroke="#a8927a" stroke-width="0.6"/><path d="M269.2,109.9 L270.3,107.4 L273.0,106.0 L274.1,103.5 L276.1,101.6 L276.9,98.9 L278.9,97.0 L280.5,93.8 L282.1,90.6 L283.6,87.4 L285.3,84.2 L287.5,80.5" stroke="#a8927a" stroke-width="0.6"/><path d="M269.2,109.9 L270.3,112.8 L272.1,115.3 L274.5,117.3 L277.0,119.0 L278.7,121.3 L280.0,124.0 L281.7,126.4 L284.2,128.0 L284.6,131.0 L285.5,133.8 L286.6,136.6 L287.5,138.9 L287.6,141.5 L288.2,143.9 L289.0,146.3 L289.5,148.7 L290.8,151.0 L290.9,153.5 L291.4,155.9 L293.9,157.8 L296.2,160.0" stroke="#a8927a" stroke-width="0.6"/><path d="M277.0,98.5 L279.5,98.7 L281.8,99.8 L284.2,100.4 L286.7,101.8 L288.9,103.8 L291.4,105.2 L292.0,107.7 L293.7,109.8 L293.8,112.5 L296.6,112.9 L298.4,115.4 L301.3,115.7 L303.5,117.3 L306.1,118.1 L307.9,120.5 L310.7,120.9 L313.1,122.1 L315.5,123.0 L318.0,122.7 L320.3,123.2 L322.8,123.3 L325.0,121.8 L327.7,121.7 L330.3,121.2 L332.5,119.7 L334.4,118.3 L336.6,117.2 L338.4,115.6 L339.7,113.3 L342.1,112.5 L343.3,110.2 L343.9,107.7 L344.5,105.2 L347.1,106.1 L349.4,107.6 L352.2,108.0 L354.2,110.0 L356.8,109.8 L359.0,108.4 L361.4,107.6 L363.9,105.2" stroke="#a8927a" stroke-width="0.6"/><path d="M354.5,51.0 L354.5,53.7 L354.3,56.3 L353.3,58.8 L353.3,61.5 L353.0,64.1 L351.8,66.6 L352.8,68.9 L352.7,71.6 L354.2,73.8 L352.9,76.1 L352.1,78.5 L351.8,81.1 L351.0,83.7 L349.4,85.9 L350.9,88.3 L352.9,90.5 L354.2,93.1 L356.9,94.2 L359.4,95.8 L361.4,98.0 L362.7,100.2 L362.3,103.1 L363.9,105.2" stroke="#a8927a" stroke-width="0.6"/><path d="M363.9,105.2 L366.2,106.6 L368.5,108.0 L370.9,109.3 L373.5,110.0 L375.7,111.4 L378.2,111.7 L380.6,112.6 L383.2,112.5 L386.0,112.9 L388.1,114.8 L390.1,116.8 L392.9,117.3 L393.9,119.8 L395.3,122.1" stroke="#a8927a" stroke-width="0.6"/><path d="M296.2,160.0 L298.8,159.7 L301.2,158.9 L303.5,157.5 L305.7,156.3 L308.3,155.9 L310.6,154.6 L313.2,155.4 L315.5,154.6 L318.0,154.8 L320.3,153.7 L322.8,153.5 L325.3,153.4 L327.6,151.9 L330.2,152.2 L332.5,151.1 L335.0,150.9 L337.3,149.7 L339.7,149.4 L342.1,148.7 L344.6,148.4 L346.8,147.0 L349.4,147.0 L351.8,146.3 L354.3,146.2 L356.5,144.7 L359.1,145.0 L361.4,143.9 L363.9,143.6 L366.4,143.3 L368.6,141.7 L371.1,141.4 L373.3,140.1 L376.1,140.7 L378.5,140.1 L380.8,139.0 L384.0,138.9 L387.2,138.3 L390.4,139.0 L392.7,137.9 L395.3,138.0 L397.6,136.8 L400.1,136.6" stroke="#a8927a" stroke-width="0.6"/><path d="M394.5,121.4 L397.0,121.7 L399.5,122.0 L401.7,123.5 L404.2,123.8 L406.6,123.0 L409.0,123.9 L411.4,123.6 L413.8,123.0 L416.2,123.8 L418.6,124.1 L421.1,123.5 L423.5,124.4 L426.0,124.0 L428.3,125.0 L431.5,123.0" stroke="#a8927a" stroke-width="0.6"/><path d="M380.0,139.5 L382.4,138.7 L385.0,139.7 L387.2,137.9 L389.7,138.3 L392.0,139.3 L394.7,138.8 L397.0,139.7 L399.3,140.7 L401.5,142.1 L404.2,141.1 L406.5,142.4 L409.0,142.5 L411.4,143.1 L413.9,144.0 L416.2,145.1 L418.9,145.5 L420.9,147.6 L423.5,148.0 L426.1,148.1 L428.5,149.1 L430.7,150.4 L432.7,152.4 L433.5,155.0 L434.5,157.5 L435.6,160.0" stroke="#a8927a" stroke-width="0.6"/><path d="M395.3,122.1 L394.8,124.5 L394.3,127.0 L394.1,129.5 L392.9,131.8 L393.1,134.4 L395.3,136.3 L395.3,139.0" stroke="#a8927a" stroke-width="0.6"/><path d="M471.8,140.7 L474.2,141.1 L476.6,141.2 L479.0,141.7 L481.4,141.9 L484.0,142.3 L486.0,144.3 L488.5,145.2 L491.1,145.6 L493.4,147.4 L496.3,148.3 L498.4,150.4 L500.8,151.2 L503.3,151.7 L505.6,152.8 L507.9,151.8 L510.6,152.4 L513.1,151.9 L515.3,150.4 L517.5,149.0 L520.3,149.8 L522.5,148.8 L524.9,148.0" stroke="#a8927a" stroke-width="0.6"/><path d="M462.1,167.3 L463.4,169.7 L464.5,172.2 L465.1,174.9 L467.0,177.0 L467.7,179.4 L468.2,181.8 L468.6,184.2 L469.4,186.6 L470.7,188.9 L471.0,191.5 L471.8,193.9" stroke="#a8927a" stroke-width="0.6"/><path d="M406.6,181.8 L408.4,184.2 L410.0,186.8 L411.8,189.2 L413.8,191.4 L416.2,192.9 L418.3,194.7 L419.8,197.1 L421.8,198.9 L423.5,201.1 L425.7,202.8 L428.3,203.5 L430.6,204.8 L433.1,205.6 L435.5,206.5 L437.9,207.7 L440.4,208.4 L442.7,207.3 L445.2,207.3 L447.5,206.3 L450.2,207.1 L452.5,205.9 L454.7,204.5 L457.4,205.3 L459.5,203.4 L462.1,203.5 L464.7,202.6 L466.8,200.8 L469.3,199.7 L471.8,198.7" stroke="#a8927a" stroke-width="0.6"/><path d="M493.5,167.3 L494.8,164.6 L497.0,162.6 L498.4,160.0 L499.5,157.7 L500.6,155.4 L500.8,152.8" stroke="#a8927a" stroke-width="0.6"/><path d="M380.0,181.8 L382.6,181.7 L384.8,183.4 L387.2,183.9 L389.7,184.2 L392.3,184.4 L394.4,182.6 L396.8,182.0 L399.3,181.8 L401.7,182.2 L404.2,182.1 L406.6,181.8" stroke="#a8927a" stroke-width="0.6"/><path d="M513.5,146.6 L516.0,146.3 L517.5,143.7 L520.0,143.5 L522.9,143.0 L525.6,141.7 L528.0,138.0" stroke="#a8927a" stroke-width="0.6"/><path d="M535.2,141.5 L535.4,144.1 L535.2,146.6 L534.6,149.0 L534.1,151.4 L533.5,153.8 L532.8,156.2 L533.2,158.6 L533.0,161.1 L534.0,163.4 L533.5,165.9 L534.0,168.3 L536.0,170.3 L536.7,173.0 L537.6,175.6" stroke="#a8927a" stroke-width="0.6"/><path d="M557.0,137.0 L557.4,139.4 L557.4,141.9 L557.6,144.4 L559.3,146.5 L559.4,149.0 L559.4,151.5 L560.0,153.9 L560.6,156.3 L562.0,158.5 L561.8,161.1 L564.1,163.0 L565.2,165.8 L566.6,168.3 L569.0,170.7" stroke="#a8927a" stroke-width="0.6"/><path d="M537.6,175.6 L539.9,174.5 L542.5,174.9 L544.8,173.8 L547.2,173.1 L549.7,173.1 L552.1,172.1 L554.5,171.2 L556.9,170.2 L559.4,169.2 L561.8,168.3" stroke="#a8927a" stroke-width="0.6"/><path d="M470.0,192.5 L472.6,191.6 L475.1,190.5 L477.3,188.9 L479.7,187.7 L482.0,186.2 L484.5,185.2 L487.1,185.7 L489.3,184.0 L491.6,183.4 L494.1,183.2 L496.5,182.8 L499.0,182.8 L501.4,182.0 L503.8,181.4 L506.1,180.7 L508.6,180.6 L511.1,180.4 L513.6,180.7 L515.9,181.7 L518.4,181.7 L520.7,182.8 L522.0,185.0 L522.4,187.5 L522.4,190.1 L523.1,192.5" stroke="#a8927a" stroke-width="0.6"/><path d="M470.0,260.1 L472.6,260.0 L474.9,258.8 L477.4,258.2 L479.9,257.6 L481.9,255.7 L484.5,255.3 L487.0,255.1 L489.5,255.2 L491.9,254.8 L494.2,253.8 L496.5,252.7 L499.0,252.9 L501.4,252.2 L504.0,252.8 L506.1,250.7 L508.6,250.6 L511.1,250.4 L513.9,249.5 L515.8,247.1 L518.3,245.6" stroke="#a8927a" stroke-width="0.6"/><path d="M213.0,167.0 L213.5,169.5 L212.5,172.0 L212.8,174.5 L211.0,176.5 L209.6,178.8 L208.0,180.9 L206.8,183.4 L204.3,184.9 L203.1,187.4 L200.3,189.4 L198.3,192.2 L199.9,195.4 L201.5,198.6 L204.8,200.3 L202.3,202.7 L199.9,205.1 L198.7,208.5 L196.7,211.5 L197.6,214.2 L196.9,216.9 L196.7,219.6 L197.4,222.0 L198.3,224.4 L201.2,226.3 L203.1,229.2" stroke="#a8927a" stroke-width="0.6"/><path d="M151.0,213.0 L152.2,215.7 L155.1,217.0 L156.4,219.6 L159.9,219.6 L162.9,221.2 L166.1,222.1 L169.3,221.2 L171.9,221.5 L174.2,222.8 L175.6,225.0 L175.8,227.6 L178.9,228.7 L182.2,229.2 L184.0,231.5 L185.4,234.1 L188.5,235.6 L191.9,235.7 L195.0,234.4 L198.3,234.1 L201.3,232.2 L203.1,229.2 L204.5,226.6 L206.4,224.4 L208.9,223.8 L211.2,222.8 L214.2,224.4 L217.6,224.4 L220.9,227.6" stroke="#a8927a" stroke-width="0.6"/><path d="M219.3,227.3 L221.4,229.0 L223.8,230.0 L226.3,230.9 L229.0,231.2 L231.5,230.9 L233.8,232.3 L236.2,232.5 L238.6,233.1 L241.0,234.1 L243.7,234.4 L246.1,235.5 L248.3,237.0 L250.9,237.5 L253.6,237.8 L256.0,238.9 L258.9,237.9 L261.8,237.0 L263.2,234.9 L265.3,233.5 L267.9,233.0 L269.6,231.2 L272.4,229.1 L275.4,227.3 L277.3,224.4 L279.2,221.5 L279.6,218.6 L279.2,215.7" stroke="#a8927a" stroke-width="0.6"/><path d="M233.7,172.0 L234.6,174.9 L235.6,177.7 L237.9,179.9 L238.6,182.9 L236.5,185.1 L236.6,188.3 L234.8,190.6 L234.0,192.9 L234.6,195.5 L232.9,197.7 L232.9,200.2 L234.1,202.7 L233.8,205.5 L234.8,208.0 L232.6,209.6 L230.6,211.5 L229.0,213.8 L227.6,215.8 L225.6,217.3 L223.9,219.0 L223.2,221.5 L221.8,224.8 L219.3,227.3" stroke="#a8927a" stroke-width="0.6"/><path d="M185.4,234.1 L186.4,237.2 L187.0,240.5 L185.5,243.6 L185.4,247.0 L186.4,250.5 L188.6,253.4 L188.3,256.8 L187.0,260.0" stroke="#a8927a" stroke-width="0.6"/><path d="M269.6,231.2 L268.2,233.4 L268.1,236.2 L267.2,238.6 L265.7,240.8 L264.2,243.3 L263.8,246.4 L261.8,248.6 L259.5,250.1 L257.6,252.1 L256.0,254.3 L255.5,257.3 L253.2,259.4 L252.2,262.1 L251.5,264.7 L250.6,267.3 L250.2,270.0" stroke="#a8927a" stroke-width="0.6"/><path d="M319.3,162.9 L321.0,165.0 L322.9,167.0 L325.1,168.6 L326.4,172.0 L329.0,174.4 L331.3,175.9 L333.4,177.7 L334.8,180.2 L337.1,182.0 L340.1,182.5 L342.5,184.1 L345.1,184.5 L347.5,185.9 L350.2,186.0 L352.6,188.6 L354.1,191.8 L353.4,194.2 L354.1,196.7" stroke="#a8927a" stroke-width="0.6"/><path d="M302.4,217.6 L303.7,215.1 L305.6,213.0 L308.1,211.5 L309.3,209.0 L311.6,207.3 L313.6,205.5 L316.2,204.9 L318.5,203.7 L320.6,202.2 L323.2,201.5 L325.7,200.0 L328.6,199.4 L330.9,197.6 L333.5,197.4 L335.9,198.0 L338.3,198.3 L340.6,199.6 L343.0,198.5 L345.6,197.6 L348.3,197.6 L351.3,198.0 L354.1,196.7" stroke="#a8927a" stroke-width="0.6"/><path d="M354.1,196.7 L355.3,199.0 L356.9,201.0 L358.0,203.4 L359.0,205.7 L361.2,207.1 L362.3,209.3 L363.8,211.2 L366.5,212.2 L369.0,213.6 L371.5,215.0 L374.1,216.8 L377.3,217.0 L380.1,216.0 L383.0,216.4 L385.9,215.8 L388.7,214.9 L391.7,214.9 L393.2,216.4" stroke="#a8927a" stroke-width="0.6"/><path d="M407.7,193.2 L409.6,194.7 L411.8,195.8 L413.5,197.5 L415.9,198.3 L417.2,200.7 L419.3,201.9 L422.4,202.9 L425.1,204.8 L428.1,205.1 L430.9,206.2 L433.8,205.3 L436.7,204.8" stroke="#a8927a" stroke-width="0.6"/><path d="M446.1,230.0 L444.6,232.8 L442.3,234.8 L439.7,236.4 L438.2,239.0 L436.4,241.3 L436.9,244.6 L438.0,247.7 L437.5,250.2 L436.5,252.3 L434.8,254.2 L434.7,257.0 L433.3,259.4 L433.2,262.2 L433.0,265.6 L431.6,268.6 L430.9,271.5 L430.9,274.5 L431.6,277.5 L430.7,280.4 L430.4,283.5 L430.3,286.5 L430.0,289.6" stroke="#a8927a" stroke-width="0.6"/><path d="M459.0,234.8 L461.2,236.8 L462.2,239.7 L465.0,241.7 L467.0,244.5 L469.3,245.2 L471.0,247.3 L473.5,247.7 L475.9,246.9 L478.3,246.1 L480.6,247.3 L483.1,247.7 L485.7,246.5 L488.5,246.6 L491.2,246.1 L494.5,245.9 L497.6,244.5 L500.3,245.1 L502.8,246.4 L505.7,246.1 L509.1,246.0 L512.1,244.5 L514.5,243.5 L517.0,242.9" stroke="#a8927a" stroke-width="0.6"/><path d="M478.3,247.7 L479.0,251.0 L479.9,254.2 L480.7,257.0 L481.5,259.7 L483.1,262.2 L485.1,264.1 L486.1,266.6 L488.0,268.6 L489.9,271.5 L492.8,273.5 L493.7,277.0 L496.0,279.9" stroke="#a8927a" stroke-width="0.6"/><path d="M467.0,252.5 L466.1,255.7 L465.4,259.0 L466.3,261.7 L467.0,264.6 L468.6,267.0 L469.1,269.5 L470.2,271.6 L471.9,273.5 L472.1,276.0 L471.1,278.6 L472.0,281.1 L472.2,283.6 L472.6,286.1 L471.9,288.7 L471.9,291.2" stroke="#a8927a" stroke-width="0.6"/><path d="M491.2,276.7 L492.7,279.9 L494.4,283.1 L493.2,286.2 L492.8,289.6 L490.8,291.8 L489.6,294.4 L489.8,297.8 L491.2,300.9 L492.4,304.0 L492.8,307.3 L493.7,309.9 L495.9,311.6 L497.6,313.7" stroke="#a8927a" stroke-width="0.6"/><path d="M471.9,291.2 L475.2,292.5 L478.3,294.4 L480.8,295.8 L483.5,296.3 L486.4,296.0 L489.6,294.4" stroke="#a8927a" stroke-width="0.6"/><path d="M459.0,305.7 L462.2,308.9 L464.1,310.8 L466.9,311.5 L468.6,313.7 L470.7,315.0 L472.7,316.4 L475.1,317.0 L477.5,317.8 L479.9,317.4 L482.4,317.8 L484.8,317.8 L487.9,316.3 L491.2,315.3 L494.4,314.5 L497.6,313.7 L500.0,312.0 L503.1,311.9 L505.7,310.5 L508.4,310.1 L511.0,309.0 L513.7,308.9" stroke="#a8927a" stroke-width="0.6"/><path d="M430.0,289.6 L433.1,290.6 L436.4,291.2 L438.8,291.5 L441.2,292.4 L443.8,291.6 L446.1,292.8 L449.1,294.7 L452.5,296.0 L454.8,293.4 L457.4,291.2 L458.0,294.4 L459.0,297.6 L459.6,300.3 L459.3,303.0 L459.0,305.7 L459.6,308.4 L459.7,311.1 L459.1,313.9 L459.7,316.6 L459.7,319.0 L458.9,321.5 L459.7,323.9 L457.3,326.3" stroke="#a8927a" stroke-width="0.6"/><path d="M188.9,240.0 L189.9,242.3 L190.1,244.8 L190.9,247.2 L190.8,249.7 L189.7,252.3 L188.2,254.8 L187.0,257.4 L184.9,259.1 L183.4,261.6 L181.2,263.2 L181.0,265.7 L180.8,268.2 L179.1,270.4 L179.2,272.9 L180.2,275.4 L179.9,278.2 L181.2,280.6 L182.9,283.3 L183.1,286.4 L180.7,289.0 L177.3,290.2 L174.8,291.0 L172.2,291.7 L169.6,292.2 L167.3,293.8 L165.7,296.0" stroke="#a8927a" stroke-width="0.6"/><path d="M188.9,259.3 L191.4,258.6 L194.2,258.7 L196.6,257.4 L199.2,256.6 L201.7,257.0 L204.3,257.4 L207.1,257.6 L209.6,256.4 L212.1,255.5 L214.4,253.6 L217.2,252.7 L220.0,251.6" stroke="#a8927a" stroke-width="0.6"/><path d="M220.0,282.5 L218.1,284.6 L216.3,286.7 L214.0,288.3 L214.0,291.0 L212.0,293.3 L212.1,296.0 L210.7,298.5 L209.2,301.0 L208.2,303.8 L208.1,306.4 L208.4,308.9 L208.2,311.5" stroke="#a8927a" stroke-width="0.6"/><path d="M165.7,296.0 L165.9,298.5 L167.5,300.7 L167.5,303.2 L167.6,305.7 L166.8,308.5 L164.7,310.6 L163.8,313.4 L163.0,315.8 L162.1,318.1 L163.0,320.8 L161.8,323.1 L161.5,325.6 L161.7,328.1 L160.9,330.5 L159.9,332.8 L159.4,335.2 L159.8,337.8 L159.0,340.1 L158.0,342.4 L157.6,345.5 L156.7,348.0 L156.3,350.6 L156.2,353.3 L155.1,355.8 L154.3,358.3 L153.3,360.8 L154.0,363.7 L152.5,366.1 L152.6,368.8 L153.5,371.3 L154.7,373.8 L155.1,376.4 L157.3,378.6 L157.8,382.0 L160.2,384.1 L162.9,384.7 L165.6,385.1 L167.9,386.7 L170.9,387.8 L172.8,390.7 L175.7,391.9 L174.7,394.4 L173.4,396.9 L173.1,399.6" stroke="#a8927a" stroke-width="0.6"/><path d="M210.0,284.4 L212.8,283.1 L215.9,283.8 L218.6,282.3 L221.6,282.5 L223.9,281.7 L226.3,281.2 L228.7,280.7 L230.9,279.3 L233.2,278.6 L235.8,278.0 L238.1,276.5 L240.9,276.7 L240.8,274.1 L240.7,271.6 L240.9,269.0 L242.9,267.5 L243.9,265.2 L245.6,263.5 L246.7,261.3 L249.2,260.5 L251.7,259.4 L254.4,259.3 L257.1,259.3 L259.7,258.6 L262.2,257.4" stroke="#a8927a" stroke-width="0.6"/><path d="M260.2,253.5 L262.7,253.8 L265.0,254.6 L267.3,255.6 L269.9,255.5 L272.6,255.6 L275.2,256.3 L277.6,257.4 L280.4,257.2 L283.0,258.0 L285.4,259.3 L288.2,259.1 L290.7,260.0 L293.1,261.3 L296.0,259.4 L298.9,257.4 L301.5,256.1 L303.0,253.8 L304.7,251.6 L307.5,249.5 L310.5,247.7 L313.0,246.9 L315.7,246.8 L318.2,245.8" stroke="#a8927a" stroke-width="0.6"/><path d="M293.1,261.3 L295.3,262.9 L297.0,265.1 L299.4,266.5 L300.8,269.0 L300.6,271.5 L300.6,273.9 L300.2,276.4 L298.9,278.6 L297.3,281.7 L295.0,284.4 L292.6,285.7 L290.0,286.1 L287.3,286.4 L284.7,286.9 L282.8,289.1 L279.9,289.0 L277.6,290.2 L276.9,293.1 L274.6,295.2 L273.8,298.0" stroke="#a8927a" stroke-width="0.6"/><path d="M300.8,269.0 L303.1,270.9 L306.1,271.4 L308.6,272.9 L310.4,274.9 L311.9,277.2 L314.3,278.6 L315.7,280.8 L316.2,283.5 L317.1,285.9 L318.2,288.3 L319.0,290.7 L321.8,291.6 L323.2,293.6 L324.0,296.0 L326.2,297.4 L327.6,299.8 L330.0,301.0" stroke="#a8927a" stroke-width="0.6"/><path d="M295.0,284.4 L296.0,286.6 L296.7,289.0 L297.4,291.3 L298.4,293.6 L298.9,296.0 L300.2,298.6 L301.7,301.1 L302.8,303.8 L305.2,304.6 L306.7,306.6 L309.1,307.5 L310.5,309.6 L312.9,308.2 L315.5,307.9 L318.2,307.6 L321.0,307.8 L323.3,306.3 L325.9,305.7" stroke="#a8927a" stroke-width="0.6"/><path d="M310.0,268.6 L312.6,267.4 L314.8,265.5 L317.7,264.8 L319.9,263.7 L321.4,261.6 L324.0,261.1 L325.5,259.0 L327.8,257.2 L330.8,256.8 L333.2,255.1 L334.6,253.0 L337.4,252.3 L338.6,250.0" stroke="#a8927a" stroke-width="0.6"/><path d="M310.0,284.1 L312.0,286.3 L312.7,289.2 L313.9,291.8 L316.3,293.2 L317.4,296.0 L319.7,297.6 L322.6,299.6 L325.5,301.5 L328.1,304.0 L329.3,307.3 L330.1,310.2 L329.3,313.1" stroke="#a8927a" stroke-width="0.6"/><path d="M387.3,293.8 L390.2,294.7 L393.1,295.7 L395.9,296.6 L398.1,298.5 L400.8,299.6 L403.5,299.8 L405.9,300.8 L408.5,301.5 L411.9,300.3 L414.3,297.6 L416.6,295.7 L419.4,294.8 L422.1,293.8 L424.9,292.8 L427.0,290.5 L430.0,289.9" stroke="#a8927a" stroke-width="0.6"/><path d="M327.0,353.2 L329.6,354.3 L331.8,356.1 L334.5,357.0 L336.6,359.0 L338.2,360.9 L340.7,361.5 L342.3,363.4 L344.3,364.8 L345.6,368.1 L348.2,370.6" stroke="#a8927a" stroke-width="0.6"/><path d="M321.2,368.6 L322.5,371.2 L325.6,371.9 L326.7,374.7 L328.9,376.4 L330.8,377.8 L332.3,379.9 L334.8,380.6 L336.6,382.2 L338.0,384.7 L340.9,385.6 L342.4,388.0 L343.7,390.6 L346.4,391.8 L348.2,393.8 L351.0,394.6 L353.5,396.1 L355.9,397.6" stroke="#a8927a" stroke-width="0.6"/><path d="M240.0,359.0 L240.8,361.5 L241.3,364.1 L243.0,366.2 L243.9,368.6 L243.0,371.4 L242.1,374.3 L242.4,377.3 L241.9,380.2 L241.0,382.6 L240.5,385.0 L239.8,387.4 L240.0,390.0" stroke="#a8927a" stroke-width="0.6"/><path d="M340.0,358.6 L342.8,359.8 L345.9,359.0 L348.7,360.2 L351.6,360.6 L354.5,360.6 L357.4,361.4 L360.3,360.4 L363.2,360.6 L365.6,361.0 L368.0,361.7 L370.5,361.8 L372.9,362.5 L375.5,363.2 L378.0,363.2 L380.6,362.5" stroke="#a8927a" stroke-width="0.6"/><path d="M340.0,393.4 L342.8,392.2 L345.9,393.3 L348.6,391.4 L351.6,391.5 L354.6,391.5 L357.5,391.2 L360.4,390.5 L363.2,389.6 L365.4,388.1 L367.7,387.0 L370.3,386.5 L372.9,385.7 L374.8,383.8 L377.3,382.9 L379.5,381.5 L381.7,380.1 L384.0,379.0 L386.4,378.0" stroke="#a8927a" stroke-width="0.6"/><path d="M363.2,389.6 L362.8,392.6 L364.0,395.4 L364.7,398.3 L365.1,401.2 L364.1,403.6 L362.8,405.8 L361.4,408.1 L361.3,410.8" stroke="#a8927a" stroke-width="0.6"/><path d="M390.2,381.8 L391.5,384.1 L391.0,386.7 L392.5,388.9 L392.2,391.5 L392.7,393.9 L392.3,396.5 L394.0,398.7 L394.1,401.2 L394.6,404.2 L396.5,406.4 L398.0,408.9 L398.6,411.8 L401.3,413.7 L401.8,416.6" stroke="#a8927a" stroke-width="0.6"/><path d="M425.0,327.7 L425.6,330.1 L427.1,332.2 L427.1,334.7 L427.4,337.2 L428.9,339.3 L428.7,342.0 L427.0,344.2 L426.2,346.7 L425.0,349.0 L425.9,351.3 L425.3,353.9 L425.7,356.4 L427.0,358.6 L427.4,361.2 L429.0,363.4 L429.2,366.1 L430.8,368.3 L431.5,370.7 L430.8,373.1 L430.9,375.6 L430.8,378.0 L433.4,380.5 L434.7,383.8" stroke="#a8927a" stroke-width="0.6"/><path d="M405.7,397.3 L406.7,399.6 L405.9,402.3 L406.3,404.7 L407.6,407.0 L410.3,407.2 L412.2,409.5 L414.7,410.2 L417.3,410.8 L419.0,413.0 L421.8,414.0 L423.1,416.6" stroke="#a8927a" stroke-width="0.6"/><path d="M90.6,363.5 L93.1,362.5 L95.8,362.3 L98.2,361.1 L100.9,360.9 L103.6,360.8 L106.0,359.6 L108.6,358.7 L111.2,358.4 L113.6,359.7 L116.2,360.2 L118.8,360.9 L121.5,360.9 L122.1,363.6 L123.8,365.9 L124.1,368.7 L126.0,371.2 L128.0,373.6 L129.3,376.4 L127.5,378.7 L127.5,381.9 L124.9,383.9 L124.1,386.7 L125.5,389.1 L126.2,391.7 L126.7,394.4 L125.8,396.9 L125.1,399.5 L124.7,402.1 L124.1,404.7 L123.4,407.3 L122.6,409.9 L122.0,412.5 L121.5,415.1 L123.7,416.3 L125.2,418.2 L126.7,420.2 L129.1,422.3 L130.1,425.4 L131.9,427.9 L133.1,430.4 L134.0,433.0 L134.4,435.7" stroke="#a8927a" stroke-width="0.6"/><path d="M124.1,368.7 L126.7,368.2 L129.3,367.8 L132.0,367.7 L134.4,366.3 L137.0,366.1 L139.5,365.1 L142.2,365.1 L144.7,364.1 L147.3,363.5 L149.8,361.6 L152.4,360.0 L155.1,358.4" stroke="#a8927a" stroke-width="0.6"/><path d="M173.1,399.6 L174.2,402.6 L177.0,404.4 L178.2,407.3 L176.8,409.7 L177.4,412.6 L176.4,415.0 L175.7,417.6 L173.6,419.2 L172.8,421.9 L171.0,423.8 L169.9,426.2 L167.9,427.9 L165.9,430.1 L165.4,433.1" stroke="#a8927a" stroke-width="0.6"/><path d="M134.4,435.7 L137.0,436.1 L139.6,436.3 L142.0,437.9 L144.7,437.7 L147.3,438.2 L149.9,437.5 L152.4,438.6 L155.0,437.4 L157.6,438.2 L159.9,436.1 L162.4,434.2 L165.4,433.1" stroke="#a8927a" stroke-width="0.6"/><path d="M167.9,427.9 L170.5,428.7 L173.0,429.9 L175.7,430.5 L178.3,431.2 L180.6,432.9 L183.4,433.1 L184.8,435.5 L183.6,438.4 L184.6,440.9 L184.9,443.5 L186.0,446.0 L184.2,448.3 L183.9,451.4 L181.6,453.5 L180.8,456.3 L179.7,458.8 L179.7,461.6 L178.2,464.0" stroke="#a8927a" stroke-width="0.6"/><path d="M193.7,350.6 L195.6,353.1 L197.5,355.6 L198.9,358.4 L198.8,361.1 L200.0,363.5 L200.3,366.1 L200.8,368.7 L201.4,371.2 L200.4,373.9 L198.6,376.2 L196.9,378.6 L196.3,381.5 L197.9,383.9 L197.9,386.7 L198.9,389.3 L197.2,391.5 L194.8,393.0 L192.9,394.9 L191.1,397.0 L188.7,398.4 L186.1,399.0 L183.4,398.9 L180.8,399.6 L178.2,399.0 L175.7,399.1 L173.1,399.6" stroke="#a8927a" stroke-width="0.6"/><path d="M224.6,345.5 L224.0,348.4 L222.2,350.7 L221.2,353.4 L219.5,355.8 L217.8,358.4 L216.4,361.2 L214.3,363.5 L212.1,364.8 L210.8,366.9 L209.2,368.7 L206.5,369.1 L203.8,369.6 L201.4,371.2" stroke="#a8927a" stroke-width="0.6"/><path d="M190.0,409.3 L192.4,410.1 L193.6,412.6 L195.3,414.3 L197.7,415.1 L200.2,416.4 L202.1,418.7 L205.0,419.3 L207.4,420.9 L209.2,423.0 L210.7,425.3 L213.6,426.3 L215.1,428.6 L217.1,430.8 L218.2,433.5 L219.0,436.4" stroke="#a8927a" stroke-width="0.6"/><path d="M232.5,401.6 L231.4,404.1 L230.5,406.5 L230.6,409.3 L230.8,412.0 L231.2,414.7 L232.5,417.1 L234.1,419.7 L234.4,422.8" stroke="#a8927a" stroke-width="0.6"/><path d="M240.2,419.0 L241.9,422.1 L244.1,424.8 L246.0,427.0 L247.2,429.7 L248.0,432.5 L249.8,434.6 L252.1,436.1 L253.8,438.3 L255.2,440.8 L257.3,442.5 L259.1,444.5 L261.5,446.0 L263.6,448.8 L265.4,451.8 L266.8,455.0 L269.2,457.6 L268.6,460.0 L267.7,462.3 L268.1,464.9 L267.3,467.3 L265.9,469.8 L264.8,472.5 L263.4,475.0 L264.2,477.6 L264.9,480.2 L265.4,482.8 L266.3,485.2 L267.5,487.6 L267.6,490.2 L267.6,493.0 L266.7,495.5 L265.7,498.0 L266.0,500.7 L266.7,503.2 L267.6,505.7 L265.9,508.1 L264.7,510.7 L263.8,513.4 L261.4,514.9 L259.9,517.3" stroke="#a8927a" stroke-width="0.6"/><path d="M280.8,428.6 L279.6,430.9 L280.2,433.5 L279.4,435.9 L278.9,438.3 L280.2,440.7 L279.3,443.6 L280.8,446.0 L283.3,448.6 L284.7,451.8 L285.4,454.8 L286.6,457.6 L284.6,460.4 L282.8,463.4" stroke="#a8927a" stroke-width="0.6"/><path d="M267.3,453.8 L269.8,452.8 L272.5,452.7 L275.0,451.8 L277.8,451.6 L280.0,454.0 L282.8,453.8" stroke="#a8927a" stroke-width="0.6"/><path d="M207.7,440.0 L209.0,442.8 L208.5,445.8 L208.3,448.8 L209.7,451.6 L209.5,454.5 L208.6,457.4 L208.4,460.3 L207.7,463.2 L209.3,466.3 L211.6,469.0 L214.0,470.6 L216.7,471.8 L219.3,472.9 L221.9,474.7 L225.1,474.8" stroke="#a8927a" stroke-width="0.6"/><path d="M248.3,476.7 L250.8,476.8 L253.1,477.7 L255.6,478.2 L258.0,478.6 L260.6,479.8 L263.1,481.3 L265.7,482.5" stroke="#a8927a" stroke-width="0.6"/><path d="M200.0,507.6 L202.3,509.5 L205.1,510.2 L207.7,511.5 L210.5,511.5 L213.1,512.1 L215.5,513.4 L218.2,514.4 L220.3,516.6 L223.2,517.3 L225.4,519.3 L228.5,519.7 L230.9,521.2 L232.3,519.2 L233.7,517.3 L235.9,515.8 L236.7,513.4 L239.5,511.4 L242.5,509.6 L245.3,508.3 L248.3,507.6 L251.2,509.6 L254.1,511.5 L256.8,513.9 L258.0,517.3 L258.6,519.9 L259.9,522.3 L259.9,525.0 L260.0,527.7 L261.3,530.2 L261.8,532.8 L259.2,535.2 L258.0,538.5 L257.5,541.1 L257.1,543.8 L256.0,546.3" stroke="#a8927a" stroke-width="0.6"/><path d="M219.3,536.6 L221.3,538.0 L223.3,539.4 L225.6,540.3 L227.1,542.4 L228.7,544.2 L230.8,545.5 L232.7,547.0 L234.8,548.2 L236.7,551.1 L238.6,554.0" stroke="#a8927a" stroke-width="0.6"/><path d="M265.7,482.5 L266.8,479.8 L269.0,477.7 L269.6,474.8 L272.3,474.9 L274.8,475.7 L277.3,476.7 L280.2,475.6 L283.1,474.8 L285.6,473.7 L288.1,473.2 L290.8,472.9 L293.9,472.5 L296.6,470.9" stroke="#a8927a" stroke-width="0.6"/><path d="M267.0,496.0 L270.0,497.5 L273.4,498.0 L275.9,497.0 L278.5,496.2 L281.2,496.0 L283.7,496.1 L285.9,494.4 L288.4,494.5 L290.8,494.1 L293.2,495.2 L295.6,496.2 L298.3,496.4 L300.5,498.0 L303.0,498.9 L305.6,499.3 L308.2,499.9 L310.9,499.9 L313.1,497.8 L315.9,498.0" stroke="#a8927a" stroke-width="0.6"/><path d="M265.7,447.7 L268.0,449.5 L271.2,449.7 L273.4,451.6 L275.7,453.6 L278.4,454.6 L281.2,455.5 L283.9,455.7 L286.4,456.6 L288.9,457.4 L291.3,456.0 L293.9,455.5 L296.6,455.5 L299.3,454.4 L302.0,453.3 L304.3,451.6 L306.7,450.2 L309.5,450.2 L312.0,449.0" stroke="#a8927a" stroke-width="0.6"/><path d="M346.4,430.9 L347.4,433.4 L347.3,436.0 L348.0,438.6 L348.1,441.2 L347.6,443.9 L348.3,446.4 L349.4,448.7 L349.5,451.1 L350.3,453.5 L350.2,456.0 L348.7,458.4 L348.9,461.2 L348.3,463.8" stroke="#a8927a" stroke-width="0.6"/><path d="M338.6,411.6 L341.7,413.2 L344.4,415.5 L347.0,414.9 L349.7,414.5 L352.2,413.5 L354.8,415.5 L358.0,416.0" stroke="#a8927a" stroke-width="0.6"/><path d="M381.2,413.5 L381.2,415.9 L381.3,418.4 L381.1,420.8 L381.2,423.2 L380.1,425.9 L378.1,428.1 L377.3,430.9 L377.9,433.5 L377.4,436.0 L377.3,438.6 L377.3,441.1 L378.1,443.5 L378.0,446.0 L379.2,448.3 L378.6,451.3 L377.3,454.1" stroke="#a8927a" stroke-width="0.6"/><path d="M381.2,423.2 L383.7,420.7 L387.0,419.3 L389.4,418.3 L391.8,417.4 L394.5,417.2 L396.6,415.5 L399.3,414.8 L401.8,413.6 L404.0,412.0" stroke="#a8927a" stroke-width="0.6"/><path d="M428.0,174.3 L428.8,171.3 L430.6,168.7 L432.0,166.0 L434.2,163.3 L435.6,160.0 L437.9,161.2 L440.3,162.1 L442.8,162.5 L445.3,163.0 L447.5,164.2 L450.1,164.4 L452.5,164.9 L455.1,164.8 L457.3,166.0 L459.9,165.9 L462.1,167.3" stroke="#000" stroke-opacity="0.55" stroke-width="1"/><path d="M462.1,167.3 L463.0,164.9 L463.2,162.3 L464.5,160.0 L466.1,157.9 L466.9,155.5 L467.0,152.8 L469.4,151.0 L471.8,149.2 L473.3,146.3 L474.2,143.1 L472.9,140.9 L472.1,138.5 L471.8,135.9 L472.2,133.3 L473.7,131.1 L474.2,128.6" stroke="#000" stroke-opacity="0.55" stroke-width="1"/><path d="M208.3,167.3 L210.9,166.7 L213.5,167.4 L216.0,167.1 L218.2,165.9 L220.8,166.4 L223.2,165.5 L225.6,166.2 L228.1,166.2 L230.4,167.1 L232.9,167.4 L235.5,166.5 L237.7,164.7 L240.6,164.5 L242.5,166.9 L244.4,169.3 L247.2,170.5 L250.2,171.3 L252.8,172.0 L255.2,173.2 L258.0,173.2 L260.7,175.5 L263.8,177.1 L266.8,178.8 L269.6,180.9 L269.1,184.0 L267.6,186.7 L270.5,187.4 L272.6,189.8 L275.4,190.6 L278.1,192.8 L281.2,194.4 L282.9,197.4 L285.0,200.2 L284.1,203.1 L283.1,206.0 L281.1,208.9 L279.2,211.8 L281.2,215.7 L284.4,217.2 L287.0,219.6 L289.6,219.7 L292.1,219.0 L294.7,219.6 L297.3,219.1 L299.9,218.5 L302.4,217.6 L305.0,218.5 L307.7,218.9 L308.8,221.4 L309.7,223.8 L309.7,226.6 L312.8,228.3 L315.5,230.5 L318.3,230.1 L321.0,229.0 L323.5,231.0 L326.0,233.0 L327.1,235.8 L329.0,238.2 L331.0,240.0 L333.0,241.9 L334.8,244.0 L336.1,247.4 L338.6,250.0 L342.9,251.3 L345.2,250.2 L347.6,249.8 L350.1,250.0 L352.5,249.3 L355.0,249.1 L357.3,248.2 L359.8,248.0 L362.2,247.4 L364.6,248.1 L366.7,249.2 L368.9,250.4 L371.3,251.1 L373.8,251.3 L376.6,253.4 L379.6,255.1 L382.2,255.7 L384.5,257.2 L387.3,257.1 L389.9,257.6 L392.4,258.6 L395.0,259.0 L397.5,261.5 L400.8,262.9 L402.2,265.8 L404.2,268.3" stroke="#000" stroke-opacity="0.55" stroke-width="1"/><path d="M428.0,174.3 L425.2,175.9 L423.6,178.7 L420.7,180.2 L417.8,181.6 L415.3,181.7 L412.9,182.1 L410.6,183.0 L406.2,184.5 L407.4,187.3 L407.7,190.3 L406.0,193.0 L403.3,194.6 L400.4,197.5 L399.5,200.4 L399.0,203.3 L397.5,207.7 L396.6,210.2 L394.6,212.0 L393.2,216.4 L394.1,219.3 L394.6,222.2 L394.7,225.3 L396.1,228.0 L394.7,230.7 L394.6,233.8 L393.8,237.0 L391.7,239.6 L390.3,243.9 L392.4,245.7 L393.2,248.3 L393.4,250.9 L392.1,253.4 L393.2,256.1 L392.1,258.6 L394.8,259.8 L397.3,261.3 L399.3,263.5 L402.2,265.4 L404.2,268.3" stroke="#000" stroke-opacity="0.55" stroke-width="1"/><path d="M404.2,268.3 L406.5,266.4 L408.0,263.9 L409.0,261.1 L411.6,259.8 L413.5,257.4 L416.2,256.2 L414.6,253.7 L413.5,251.0 L414.8,248.9 L415.8,246.7 L416.2,244.2 L414.1,242.7 L412.9,240.5 L412.0,238.1 L416.4,236.7 L418.0,239.4 L420.7,241.0 L423.4,242.7 L425.1,245.4 L427.2,244.2 L428.8,242.2 L430.9,241.0 L433.2,239.0 L435.2,236.7 L438.1,234.8 L440.0,232.0 L442.5,231.0 L444.8,229.5 L447.1,228.3 L449.7,227.4 L452.8,229.2 L456.1,230.6 L459.4,230.0 L462.5,229.0 L465.3,229.9 L467.9,231.1 L470.6,232.2 L473.8,231.5 L477.0,230.6 L478.9,228.7 L481.0,226.9 L483.5,225.8 L485.9,225.1 L488.1,223.5 L490.8,223.5 L493.1,222.5 L496.6,222.5 L500.0,221.5 L503.1,222.0 L506.2,221.4 L508.5,220.4 L511.0,220.1 L513.7,220.3 L515.9,219.0" stroke="#000" stroke-opacity="0.55" stroke-width="1"/><path d="M134.0,294.0 L136.7,295.3 L139.7,295.1 L142.5,296.0 L144.9,297.2 L147.4,298.1 L150.2,298.0 L152.8,297.3 L155.5,297.8 L158.0,297.0 L160.5,296.4 L163.1,295.7 L165.7,296.0 L166.9,298.8 L167.6,301.8 L169.2,305.0 L171.5,307.6 L173.9,309.1 L175.2,311.7 L177.3,313.4 L179.5,316.2 L181.2,319.2 L184.3,319.6 L187.0,321.2 L189.5,319.8 L192.0,318.4 L194.7,317.3 L197.6,315.3 L200.5,313.4 L203.4,314.1 L206.3,313.4 L207.7,315.9 L210.1,317.3 L211.8,319.6 L211.8,322.8 L213.9,325.0 L215.0,327.7 L215.7,330.6 L217.7,332.8 L218.7,335.1 L220.6,336.7 L222.4,338.3 L223.5,340.5 L224.9,343.0 L226.7,345.0 L229.3,346.3 L231.4,344.5 L232.7,341.9 L235.1,340.5 L237.0,338.9 L238.4,336.9 L240.0,335.1 L240.9,332.8 L243.0,331.4 L244.5,329.4 L245.6,327.2 L246.7,325.0 L250.6,323.1 L252.0,325.6 L253.1,328.3 L254.4,330.8 L257.3,329.9 L260.2,328.9 L263.1,329.4 L266.0,328.9 L268.5,329.8 L271.1,330.7 L273.8,330.8 L276.1,332.5 L278.2,334.3 L280.6,335.8 L281.9,338.3 L284.1,340.0 L286.4,341.6 L287.0,344.5 L288.6,346.9 L290.2,349.3 L289.9,352.4 L288.3,355.1 L290.4,356.9 L292.2,359.0 L291.9,361.7 L291.3,364.2 L290.2,366.7 L288.9,370.0 L286.4,372.5 L285.0,374.9 L282.6,376.4 L280.6,378.3 L279.4,380.7 L278.6,383.3 L278.6,386.0 L276.1,387.3 L274.7,389.8 L272.9,391.8 L270.3,393.6 L267.1,393.8 L265.4,395.8 L264.9,398.9 L263.4,401.6 L264.8,404.0 L264.1,406.9 L265.4,409.3 L264.7,412.3 L263.4,415.1 L260.7,415.4 L258.3,416.5 L255.7,417.1 L253.1,416.9 L250.6,416.5 L248.0,417.1 L245.3,417.5 L243.0,419.1 L240.2,419.0 L237.2,420.7 L234.4,422.8 L232.7,425.8 L230.6,428.6 L229.1,431.0 L229.7,433.9 L228.6,436.4 L226.0,438.7 L222.9,440.2 L220.2,438.5 L217.1,438.3 L215.3,440.4 L213.2,442.2 L213.3,444.9 L211.4,447.2 L211.3,449.9 L209.9,452.3 L210.0,455.0 L209.3,457.6 L209.2,460.3 L207.4,462.6 L207.4,465.4 L205.7,467.5 L203.9,469.6 L201.6,471.2 L200.2,473.7 L197.7,475.0 L197.7,477.8 L199.5,480.1 L199.7,482.8 L199.3,485.5 L197.8,487.7 L196.5,490.0" stroke="#000" stroke-opacity="0.55" stroke-width="1"/><path d="M402.8,266.7 L400.0,267.7 L397.3,268.7 L395.0,270.6 L395.2,273.4 L393.0,275.5 L393.1,278.3 L393.2,281.0 L395.1,283.2 L395.0,286.0 L393.1,289.9 L390.0,290.3 L387.3,291.8 L386.1,294.3 L386.6,297.1 L385.4,299.6 L384.6,302.8 L385.6,306.0 L385.4,309.2 L381.5,311.2 L378.6,310.3 L375.7,309.2 L373.2,308.3 L370.6,307.6 L368.0,307.3 L365.5,306.2 L362.7,306.4 L360.2,305.4 L357.6,306.1 L355.2,307.3 L352.5,307.3 L350.0,308.3 L347.4,308.6 L344.8,309.2 L342.2,310.0 L339.7,309.5 L337.1,309.2 L334.2,310.0 L332.2,312.3 L329.3,313.1 L327.5,316.1 L325.5,318.9 L325.6,321.7 L323.8,323.9 L323.5,326.6 L323.6,329.3 L322.8,331.9 L321.6,334.3 L322.5,337.1 L324.3,339.5 L325.5,342.1 L324.0,344.5 L322.5,346.8 L321.2,349.3 L318.6,350.6 L316.1,352.0 L313.4,353.2 L311.0,354.4 L308.4,355.1 L305.7,355.1 L303.3,356.3 L300.7,356.9 L298.0,357.1 L295.2,358.4 L292.2,359.0" stroke="#000" stroke-opacity="0.55" stroke-width="1"/><path d="M381.5,311.2 L381.3,313.9 L380.1,316.3 L379.6,318.9 L376.9,321.3 L375.7,324.7 L376.9,326.8 L378.6,328.5 L380.3,330.3 L381.5,332.4 L384.4,333.1 L386.2,335.8 L389.2,336.3 L391.9,336.1 L394.3,334.5 L397.0,334.3 L399.4,334.0 L401.9,333.7 L404.3,333.6 L406.6,332.4 L408.9,331.5 L411.4,331.1 L413.8,330.4 L416.3,330.5 L418.7,330.6 L421.1,331.2 L423.5,330.8 L425.9,330.4 L428.7,328.4 L432.0,327.5 L435.0,326.7 L438.0,326.3 L440.6,326.2 L442.9,326.9 L445.2,328.1 L447.6,328.7 L449.9,327.5 L452.4,327.1 L454.8,326.5 L457.3,326.3 L459.0,328.6 L460.0,331.5 L462.1,333.5 L464.1,335.7 L465.2,338.5 L467.0,340.8 L467.8,343.2 L468.6,345.5 L469.2,347.9 L469.4,350.4" stroke="#000" stroke-opacity="0.55" stroke-width="1"/><path d="M272.9,391.8 L276.1,393.2 L278.6,395.7 L280.2,398.0 L282.0,400.0 L284.6,401.3 L286.4,403.4 L289.5,405.0 L292.2,407.3 L292.1,410.0 L291.6,412.6 L290.2,415.0 L288.6,417.3 L286.7,419.2 L284.4,420.8 L282.6,423.1 L282.4,426.2 L280.6,428.5 L282.9,430.1 L284.4,432.4 L287.0,432.7 L289.4,432.2 L291.5,430.3 L294.1,430.5 L296.5,429.7 L299.1,430.4 L301.3,428.8 L303.8,428.5 L306.2,429.2 L308.5,429.8 L310.9,430.3 L313.4,430.5 L315.6,428.5 L318.8,428.3 L321.2,426.6 L323.9,428.1 L327.0,428.5 L329.6,428.4 L332.1,428.2 L334.7,428.5 L337.5,429.6 L340.5,430.0 L343.3,431.3 L346.4,430.9 L348.6,432.9 L351.8,433.0 L354.1,434.8 L356.5,436.5 L359.2,437.3 L361.8,438.6 L363.0,442.0 L365.7,444.4 L364.2,446.8 L364.5,449.6 L363.8,452.2 L364.1,455.3 L365.7,458.0 L368.0,462.0" stroke="#000" stroke-opacity="0.55" stroke-width="1"/><path d="M388.3,335.5 L388.1,338.2 L387.1,340.7 L386.4,343.2 L385.3,345.6 L385.1,348.3 L383.5,350.5 L382.5,352.9 L381.1,355.3 L381.1,358.0 L380.6,360.6 L381.2,363.2 L381.4,365.9 L382.5,368.3 L383.9,370.8 L385.5,373.3 L386.4,376.0 L389.0,378.5 L392.2,379.9 L394.6,379.3 L397.0,380.6 L399.4,380.6 L401.8,379.9 L403.7,382.8 L405.7,385.7 L406.3,388.3 L407.7,390.6 L407.6,393.4 L410.7,393.8 L413.4,395.4 L416.2,394.5 L418.8,393.2 L421.2,391.5 L423.9,390.4 L426.0,388.3 L428.9,387.6 L432.0,386.0 L434.7,383.8 L437.6,384.7 L440.5,383.8" stroke="#000" stroke-opacity="0.55" stroke-width="1"/><path d="M319.3,430.9 L318.5,433.5 L319.5,436.0 L319.3,438.6 L317.8,440.8 L317.8,443.6 L316.5,445.9 L315.5,448.3 L315.4,450.8 L314.4,453.1 L314.7,455.7 L313.5,458.0 L314.3,460.5 L315.2,463.1 L315.5,465.7 L320.0,467.0" stroke="#000" stroke-opacity="0.55" stroke-width="1"/></g>
<path d=" M207.7,105 L208.41,103.25 L209.13,101.49 L210.6,100.2 L212.53,100.46 L214.47,99.47 L216.4,100.2 L217.89,98.79 L219.3,97.3 L221.23,97.07 L223.17,96.55 L225.1,97.3 L227.04,96.34 L228.62,94.66 L230.9,94.4 L232.81,93.96 L234.64,93.01 L236.7,93.4 L237.04,91.16 L238.52,89.48 L239.6,87.6 L240.76,85.84 L240.26,83.53 L241.5,81.8 L240.13,80.11 L239.6,78 L241.05,76.85 L242.74,75.94 L243.5,74.1 L245.32,75.65 L247.3,77 L249.15,75.41 L251.2,74.1 L253.3,73.83 L254.22,71.48 L256.6,71.7 L258,70.2 L259.38,68.65 L260.82,67.19 L262.8,66.4 L264.37,64.56 L266.48,63.53 L268.6,62.5 L269.86,64.22 L272.14,64.68 L273.4,66.4 L274.74,68.38 L276.3,70.2 L276.4,72.17 L277.18,74.03 L277.3,76 L278.54,77.36 L280.43,78.07 L281.2,79.9 L283.37,79.82 L285.22,80.69 L287,81.8 L289.28,83.08 L291.8,83.8 L293.32,82.4 L294.8,80.95 L296.6,79.9 L298.17,78.04 L299.5,76 L299.92,74.08 L300.5,72.2 L301.97,70.4 L303.9,69.1 L306,68.84 L307.87,67.97 L309.52,66.52 L311.6,66.2 L313.56,65.85 L315.46,65.29 L317.53,65.39 L319.3,64.3 L321.36,64 L323.05,62.63 L325.1,62.3 L327.39,63.6 L330,63.3 L331.79,62.33 L333.78,62.5 L335.7,62.3 L337.1,60.07 L337.7,57.5 L338.54,55.79 L340.22,54.89 L341.5,53.6 L343.66,52.52 L346.07,53.28 L348.3,52.7 L350.69,52.46 L352.87,51.49 L355.1,50.7 L357.42,51.03 L359.52,49.79 L361.8,49.8 L364.32,49.63 L366.7,48.8 L367.16,46.59 L367.43,44.35 L367.6,42.1 L365.7,39.2 L364.19,37.29 L362.8,35.3 L364.51,34.41 L365.93,33.23 L366.7,31.4 L368.62,30.72 L370.65,30.4 L372.5,29.5 L374.4,26.6 L377.3,28.5 L379.48,28.46 L381.06,30.16 L383.1,30.5 L385,27.6 L386.89,28.15 L388.74,29.03 L390.8,28.5 L392.64,29.37 L394.73,28.81 L396.6,29.5 L398.46,28.38 L400.5,27.6 L402.25,26.88 L403.28,24.97 L405.3,24.7 L407.26,25.09 L409.2,25.6 L410.66,27.3 L411.1,29.5 L412.96,30.12 L414.49,31.17 L415.5,32.9 L417.28,33.84 L419.3,33.9 L419.47,36.42 L418.4,38.7 L416.71,40.49 L414.5,41.6 L413.2,43.66 L411.6,45.5 L410.64,47.33 L411.64,49.49 L410.6,51.3 L411.02,53.22 L411.18,55.18 L411.6,57.1 L411.61,59.24 L412.35,61.14 L413.5,62.9 L414.37,64.61 L416.36,65.16 L417.4,66.7 L418.8,67.9 L420.17,69.13 L421.3,70.6 L421.67,72.79 L423.2,74.4 L422.68,76.45 L424.29,78.22 L424.5,80.18 L424.2,82.2 L425.57,83.93 L426.54,85.86 L427.1,88 L427.76,89.93 L428.22,91.91 L429,93.8 L430.74,94.96 L431.9,96.7 L431.65,98.74 L430.08,99.97 L429,101.5 L429.84,103.36 L430.16,105.4 L430.9,107.3 L430.13,109.23 L430.58,111.17 L430.9,113.1 L429.93,115.04 L429,117 L429.77,118.99 L430.9,120.8 L432.14,122.46 L433.8,123.7 L436.06,122.5 L438.6,122.8 L441.5,120.8 L443.43,121.48 L445.37,121.28 L447.3,120.8 L449.51,122.39 L452.2,122.8 L454.23,122.79 L456,121.8 L457.58,123.12 L458.9,124.7 L460.47,126.03 L461.8,127.6 L464.38,127.44 L466.7,128.6 L468.63,128.83 L470.57,127.86 L472.5,128.6 L473.24,126.79 L474.68,125.65 L476.3,124.7 L477.29,122.41 L479.2,120.8 L480.99,119.13 L483.1,117.9 L484.88,116.71 L487,117 L489.07,115.22 L491.8,115 L494.2,114.41 L496.6,115 L497.43,113.25 L499.04,112.3 L500.5,111.2 L500.21,108.59 L501.5,106.3 L503.02,104.68 L503.4,102.5 L505.84,102.19 L508.2,101.5 L510,100.42 L512.1,100.5 L514.2,101.13 L515.9,102.5 L517.56,104.24 L518.8,106.3 L519.7,107.7 L521.16,109.51 L522.77,111.22 L523.5,113.5 L523.43,115.6 L523.69,117.61 L525.06,119.34 L525.5,121.3 L525.83,123.53 L526.8,125.67 L526.4,128 L527.97,129.63 L528.57,131.75 L529.3,133.8 L530.88,134.82 L531.5,136.8 L533.2,137.7 L535.11,139.25 L536.1,141.5 L538.03,140.69 L539.97,142.27 L541.9,141.5 L544.14,141.25 L546.29,140.3 L548.6,140.6 L550.33,139.94 L551.68,138.41 L553.72,138.47 L555.4,137.7 L558.11,137.45 L560.2,135.7 L562.53,136.81 L565.1,136.7 L567.08,136.52 L568.9,135.7 L570.66,134.4 L572.67,133.63 L574.7,132.9 L575.7,130.61 L577.6,129 L579.53,129.46 L581.47,129.06 L583.4,129 L585.41,129.13 L587.22,128.05 L589.2,128 L591.36,128.58 L593.1,130 L594.13,132.22 L596,133.8 L598.4,134.62 L600.8,133.8 L601.68,135.52 L603.03,136.77 L604.7,137.7 L605.17,139.84 L606.6,141.5 L606.53,143.5 L607.72,145.29 L607.6,147.3 L609,150 L609.81,152.14 L610.9,154.18 L611.5,156.4 L612.93,158.81 L612.8,161.6 L612.13,163.46 L610.3,164.2 L609.27,165.77 L607.7,166.8 L605.87,167.79 L603.8,168 L601.25,167.67 L598.7,168 L596.98,166.66 L594.8,166.8 L592.9,169.3 L594.1,172.6 L594.8,174.5 L593.93,176.15 L592.9,177.7 L591.27,178.91 L590.9,180.9 L587.7,182.2 L585.8,184.1 L587.23,186.08 L589.6,186.7 L590.9,188.7 L588.77,187.93 L586.63,188.93 L584.5,188.7 L581.95,189.47 L579.3,189.3 L577.61,190.67 L575.5,191.2 M574.2,193.8 L575.34,195.59 L575.5,197.7 L574.59,199.62 L572.9,200.9 M573.8,203.7 L576.2,204.5 L575.4,207.7 L576.43,209.43 L577.8,210.9 L580.3,212.5 L579.5,215.8 L576.2,216.6 L574.77,218.35 L574.6,220.6 L572.2,223 L570.17,222.98 L568.48,224.1 L566.6,224.6 L564.66,224.61 L562.73,224.63 L560.9,225.4 L559.06,226.4 L557,226 M548,227 L546.26,227.54 L544.65,228.53 L542.61,228.03 L541,229 M534,233 L535.16,235.18 L536,237.5 L537.4,239.67 L538.5,242 L538.54,244.27 L540,246 L540.4,246.9 L542.8,247.7 L543.75,249.54 L545.3,250.9 L546.6,252.31 L546.9,254.2 L550.1,255 L551.4,253.59 L553.3,253.3 L555,253.3 L555.5,255 L555,256.6 L553.17,257.95 L550.9,258.2 L548.77,257.93 L546.9,259 L543.6,259.8 L541.5,259.69 L539.6,260.6 L537.72,261.59 L535.6,261.4 L533.39,261.68 L531.6,263 L529.39,262.6 L527.5,263.8 L525.4,264.35 L523.5,265.4 L520.3,267 L521.5,267.7 L520.78,269.76 L519.6,271.6 L520.15,273.56 L521.46,275.27 L521.5,277.4 L519.77,278.68 L517.46,277.57 L515.66,278.58 L513.8,279.3 L512.46,280.91 L510.62,282.11 L509.9,284.2 L508.68,285.55 L506.86,286.28 L506,288 L508.07,288.09 L509.9,287.1 L511.67,285.97 L513.63,285.37 L515.7,285.1 L517.25,286.15 L518.61,287.39 L519.6,289 L517.62,289.49 L515.86,290.66 L513.8,290.9 L515.78,291.44 L517.87,291.64 L519.6,292.9 L521.32,294.2 L523.54,293.93 L525.4,294.8 L526.41,296.67 L527.3,298.6 L526.22,300.49 L525.4,302.5 L523.61,303.31 L522.9,305.2 L521.5,306.4 L519.13,307.28 L517.6,309.3 L516.65,311.7 L515.7,314.1 L515.9,316.03 L516.16,317.96 L517.26,319.77 L516.7,321.8 L517.1,323.72 L517.83,325.58 L517.6,327.6 L516.21,329.72 L513.8,330.5 L511.91,331.03 L510.82,332.91 L508.9,333.4 L506.51,333.94 L504.1,334.4 L502.3,335.04 L500.85,336.25 L499.3,337.3 L500.21,339.14 L500.54,341.18 L501.2,343.1 L501.61,345.52 L502.2,347.9 L504.5,348.87 L507,348.9 L509.15,347.33 L511.8,347 L513,349.2 L514.23,350.57 L515.6,351.8 L516.66,354.24 L516.9,356.9 L516.62,359.59 L515.6,362.1 L516.46,364.25 L518.1,365.9 L519.39,367.21 L520.7,368.5 L521.25,370.48 L522,372.4 L520.39,373.39 L519.4,375 L517.73,373.69 L515.6,373.7 L514.23,372.47 L513,371.1 L511.86,369.04 L510.4,367.2 L509.11,365.89 L507.8,364.6 L507.13,366.54 L506.5,368.5 L505.01,369.57 L504,371.1 L502.7,372.4 L501.4,369.1 L500.04,367.55 L498.8,365.9 L497.9,364.27 L496.9,362.7 L497.5,360.1 L495.6,357.6 L493.98,356.63 L492.4,355.6 L490.87,353.68 L488.5,353 L485.3,354.3 L484.35,355.92 L483.43,357.55 L483.4,359.5 L482.96,361.56 L484,363.4 L482.1,364.6 L479.97,364.02 L478.2,362.7 L476.98,361.04 L475.6,359.5 L473,358.2 L470.67,358.88 L469.2,360.8 L466.82,361.13 L465.1,363.11 L462.7,363.4 L461.15,365.19 L458.9,365.9 L460.2,368.5 L461.52,369.73 L462.7,371.1 L464.51,371.89 L465.3,373.7 L467.11,372.63 L469.2,372.4 L471.8,373.7 L474.3,376.2 L476.48,376.16 L478.2,377.5 L479.99,379.04 L482.1,380.1 L483.69,382.07 L485.9,383.3 L487.2,385.6 L484.88,386.34 L483.3,388.2 L481.68,389.99 L479.4,390.8 L478.1,393.4 L476.2,393.03 L474.3,393.4 L471.77,392.49 L469.1,392.1 L466.4,392.04 L464,390.8 L463.16,389.04 L461.4,388.2 L458.8,389.5 L456.94,390.24 L456.2,392.1 L456.2,394.6 L457.84,395.56 L458.8,397.2 L459.56,399.04 L461.4,399.8 L460.22,401.22 L458.8,402.4 L456.25,402.42 L453.7,402.4 L452.01,400.96 L449.8,401.1 L448.97,398.84 L447.2,397.2 L446.01,395.49 L445.9,393.4 L444.57,392.18 L443.4,390.8 L442.1,388.2 L443.37,386.92 L444.6,385.6 L445.9,383 L443.4,381.8 L441.53,382.66 L439.5,383 L437.71,384.14 L435.6,384.3 L433,385.6 L434.3,388.2 L436.42,389.24 L438.2,390.8 L438.49,392.82 L439.5,394.6 L438.88,397 L436.9,398.5 L434.9,399.72 L433,401.1 L431.16,402.48 L429.2,403.7 L430.63,405.33 L430.5,407.5 L432.56,408.56 L434.3,410.1 L436.13,411.58 L438.2,412.7 L439.49,414.01 L440.8,415.3 L442.15,416.96 L442.1,419.1 L440.8,421.7 L438.59,421.57 L436.9,423 L435.11,421.88 L433,421.7 L430.84,421.59 L429.2,423 L427.46,424.29 L425.3,424.3 L424.22,426.39 L422.5,428 L421.68,429.82 L419.8,430.5 L417.9,431.09 L416.5,432.5 L414.21,432.64 L412,432 L409.3,430.9 L408,427.7 L406.79,425.24 L406.8,422.5 L405.5,421.2 L404.2,424.5 L404.33,426.75 L404.2,429 L402.89,430.67 L402.9,432.8 L402.36,434.75 L402.9,436.7 L404.98,436.96 L406.8,438 L409.5,438.07 L411.9,439.3 L413.45,441.19 L415.8,441.9 L416.34,443.84 L417.1,445.7 L415.52,447.46 L414.5,449.6 L412.94,451.48 L410.6,452.2 L408.94,453.56 L406.8,453.5 L404.2,454.7 L402.9,457.3 L404.2,460 L405.4,461.8 L404.12,463.6 L403.4,465.7 L401.54,467.11 L399.94,468.9 L397.6,469.6 L394.93,469.86 L392.8,471.5 L392.69,469.53 L392.64,467.55 L391.8,465.7 L390.21,464.06 L389.9,461.8 L388.11,460.62 L385.75,461.3 L384,460 L382.11,459.04 L380,459.3 L378.27,460.24 L376.59,461.28 L374.7,461.9 L372.96,462.69 L370.97,462.99 L369.6,464.5 L367.05,465.19 L364.4,465.1 L362.61,466.07 L360.6,465.8 L358.62,467.06 L356.7,468.4 L354.82,469.14 L352.8,469 L351.03,467.81 L350.3,465.8 L348.52,464.17 L347.7,461.9 L345.76,460.37 L345.1,458 L343.2,459.3 L342.5,462.6 L340.83,464 L338.7,464.5 L336.93,466.07 L334.8,467.1 L332.95,468.06 L330.9,468.4 L328.76,469.28 L327.1,470.9 L325.53,472.09 L323.63,472.63 L321.9,473.5 L320.25,475.26 L318,476.1 L315.5,477.4 L312.9,478.7 L312,481 L314.2,483.8 L316.81,484.2 L319.3,485.1 L321.25,484.28 L323.2,485.1 L325.34,485.67 L327.1,487 L329.27,486.87 L330.9,488.3 L333.5,490.3 L335.24,491.88 L337.4,492.8 L337.97,494.78 L338.7,496.7 L340.01,498.2 L340.41,500.15 L341.2,501.9 L338.7,504.4 L336.52,504.35 L334.8,505.7 L333.06,506.98 L330.9,507 L328.69,507.85 L327.1,509.6 L325.15,509.72 L323.2,509.6 L321.25,510.26 L319.3,510.9 L317.57,512.49 L316.8,514.7 L316.54,516.51 L315.92,518.23 L315.5,520 L315,521.4 L313.82,522.99 L312.47,524.49 L312.3,526.6 L310.55,528.12 L308.5,529.2 L306.37,529.31 L304.6,530.5 L301.4,531.1 L299.4,533 L298.75,534.9 L298.8,536.9 L297.64,538.75 L296.9,540.8 L296.04,542.49 L294.9,544 L293.6,543.4 L293.69,541.4 L294.3,539.5 L294.23,537.31 L295.6,535.6 L295.65,533.5 L296.9,531.8 L295.6,529.8 L292.3,529.2 L289.8,530.5 L287.8,533 L289.14,534.72 L289.1,536.9 L290.11,538.49 L291.7,539.5 L289.1,541.4 L287.39,542.77 L285.3,543.4 L284.4,545.06 L282.7,545.9 L282.72,548.07 L281.4,549.8 L280.48,551.65 L280.7,553.7 L279.78,555.5 L280.1,557.5 L278.8,560.1 L277.5,558.8 L278.14,556.95 L278.2,555 L277.49,553.12 L277.5,551.1 L275.84,549.39 L274.9,547.2 L272.4,545.3 L269.8,544 L267.2,543.4 L264.6,544 L265.59,546.15 L265.9,548.5 L266.32,550.44 L266.6,552.4 L265.9,555 L263.4,557.5 L260.8,559.5 L262.1,559.8 L263.79,560.87 L264.6,562.7 L265.12,564.82 L265.86,566.89 L265.9,569.1 L264.49,571.51 L264.6,574.3 L262.44,574.19 L260.8,575.6 L259.44,576.79 L258.2,578.1 L258.63,580.05 L258.2,582 L256,581.9 L254.3,583.3 L251.67,582.96 L249.2,582 L247.73,580.87 L246.6,579.4 L247.2,577.02 L249.2,575.6 L249.65,572.95 L250.5,570.4 L249.81,567.86 L249.2,565.3 L249.85,563.35 L250.5,561.4 L249.99,559.45 L250.5,557.5 L248.55,558.79 L246.6,560.1 L245.12,562.1 L242.7,562.7 L241.08,564.88 L238.9,566.5 L238.91,568.67 L237.6,570.4 L238.41,572.3 L238.9,574.3 L236.3,575.6 L235,576.9 L233,576.9 L231.01,577.21 L229.2,576.79 L227.52,575.87 L225.8,575.1 L223.86,574.85 L222.3,573.61 L220.49,573.03 L218.7,572.4 L217.65,570.75 L216.19,569.51 L214.91,568.09 L213.3,567 L213.47,565.07 L212.22,563.5 L211.66,561.75 L211.5,559.9 L211.68,557.84 L209.73,556.49 L209.7,554.5 L208.17,552.43 L206.1,550.9 L204.47,548.93 L202.5,547.3 L202.03,545.37 L203.66,543.79 L203.4,541.9 L204.51,539.36 L204.3,536.6 L203.59,534.7 L202.86,532.82 L201.6,531.2 L201.21,529.17 L199.31,527.87 L199,525.8 L199.34,523.44 L199.61,521.07 L199.9,518.7 L201.81,517.26 L203.23,515.43 L204.3,513.3 L204.55,511.41 L203.84,509.68 L203.4,507.9 L202.79,505.74 L201.33,504.13 L199.9,502.5 L199.29,500.58 L197.69,499.16 L196.49,497.54 L196.3,495.4 L195.41,493.34 L195.53,491.16 L195.5,489 L193.94,487.66 L194.04,485.36 L192.66,483.92 L191.6,482.3 L190.57,480.57 L189.37,478.97 L188,477.5 L186.58,476.05 L184.79,475.11 L183.2,473.9 L181.32,472.77 L181.21,470.33 L179.6,469 L179.41,466.5 L178.4,464.2 L178.8,462.2 L179.26,460.21 L179.6,458.2 L177.9,456.73 L175.9,455.7 L174.23,456.75 L172.23,455.95 L170.57,457.09 L168.7,457 L167.1,458.29 L165.17,458.58 L163.1,458.43 L161.4,459.4 L159.5,460.29 L157.32,459.8 L155.4,460.6 L153.56,459.41 L151.4,459.81 L149.4,459.4 L148.8,457.41 L148.56,455.34 L148.2,453.3 L147.23,451.14 L146.12,449.06 L144.5,447.3 L143.02,445.94 L141.45,444.71 L139.7,443.7 L137.5,443.1 L136.1,441.3 L136.13,439.27 L137.3,437.6 L136.3,435.93 L136.1,434 L134.17,434.21 L132.5,435.2 L131.01,436.3 L129.18,436.7 L127.6,437.6 L125.94,438.72 L124.12,438.94 L122.26,438.89 L120.4,438.8 L118.98,437.37 L117.4,436.14 L115.6,435.2 L114.14,433.76 L112.12,433.09 L110.7,431.6 L108.31,430.97 L105.9,430.4 L104.08,430.76 L102.26,431.06 L100.53,431.94 L98.6,431.6 L97.01,430.37 L94.84,430.89 L93.46,429.03 L91.4,429.2 L90.24,427.41 L87.71,427.46 L86.6,425.6 L84.75,425.04 L83.13,423.84 L81.38,422.97 L79.3,423.1 L77.27,422.38 L75.15,421.87 L73.3,420.7 L73.42,418.18 L74.5,415.9 L75.55,414.2 L74.61,412.17 L75.54,410.45 L75.7,408.6 L74.8,406.59 L75.14,404.39 L75.56,402.19 L74.5,400.2 L73.12,398.43 L73.41,396 L72.1,394.2 L72.51,392.17 L73.55,390.26 L73.3,388.1 L75.48,387.2 L77.07,385.31 L79.3,384.5 L81.24,383.83 L82.34,382.08 L83.38,380.27 L85.4,379.7 L84.97,377.63 L86.19,375.9 L86.6,374 L88,370.8 L88.59,368.84 L89.02,366.82 L90,365 L89.39,363.07 L89.73,361.13 L90,359.2 L89.99,357.22 L91.17,355.42 L90.9,353.4 L91.68,350.99 L93.8,349.6 L94.55,347.74 L95.03,345.83 L94.8,343.8 L94.68,341.74 L95.8,340 L96.85,338.12 L96.82,336.06 L96.8,334 L99.11,333.09 L100.6,331.1 L102.05,329.83 L103.76,328.98 L105.5,328.2 L106.82,326.62 L108.4,325.3 L107.55,323.25 L105.5,322.4 L105.32,320.44 L104.6,318.57 L104.5,316.6 L105.34,314.15 L106.4,311.8 L107.84,310.5 L109.28,309.21 L111.3,308.9 L113.12,307.9 L115.26,308.79 L117.1,307.9 L118.9,306.83 L121.21,307.14 L122.72,305.33 L124.8,305 L126.15,303.42 L128.01,302.48 L129.6,301.2 L130.53,299.53 L132.05,298.45 L133.5,297.3 L135.16,295.71 L136.02,293.73 L136.4,291.5 L138.33,290.61 L139.74,289.07 L141.2,287.6 L142.99,286.84 L144.32,285.6 L145.1,283.8 L144.68,281.83 L144.1,279.9 L142.91,278.19 L141.2,277 L138.92,276.72 L137.51,274.71 L135.4,274.1 L134.82,271.72 L134.4,269.3 L135.48,267.15 L135.97,264.84 L136.4,262.5 L137.74,260.64 L139.06,258.76 L141.2,257.7 L143.11,257.06 L143.7,254.81 L145.52,254.06 L147,252.9 L148.11,251.41 L149.36,250.06 L150.9,249 L152.71,250.02 L154.51,251.04 L156.7,250.9 L157.83,248.75 L159.6,247.1 L160.8,245.29 L161.23,243.08 L162.5,241.3 L161.13,239.29 L159.6,237.4 L158.17,236.23 L156.6,235.2 L155.7,233.5 L154.52,231.75 L153.96,229.79 L153.8,227.7 L154.71,225.86 L154.25,223.85 L154,221.87 L154.7,220 L152.2,218.6 L151.87,216.35 L150.3,214.7 L151.62,212.96 L151.3,210.8 L152.68,208.85 L154.2,207 L153.26,205.17 L153.02,203.22 L153.2,201.2 L152.85,199.15 L153.6,197.29 L154.2,195.4 L154.97,193.61 L156.42,192.49 L158,191.5 L158.6,189.38 L160.04,187.69 L160.9,185.7 L162.67,184.87 L163.8,183.4 L164.8,181.8 L167.17,181.2 L169.6,180.9 L171.12,179.81 L172.82,179 L174.4,178 L176.33,177.79 L178.27,177.72 L180.2,178 L182.01,176.93 L184,176.96 L186,177 L188.18,177.12 L189.67,175.13 L191.8,175.1 L193.74,173.8 L195.79,172.68 L197.6,171.2 L199.81,170.79 L201.25,168.83 L203.4,168.3 L205.77,167.42 L208.3,167.3 L209.94,165.51 L212.1,164.4 L212.91,162.39 L213.95,160.49 L215,158.6 L216.84,157.89 L218.01,156.49 L218.9,154.8 L220.8,153.8 L221.23,151.33 L222.69,149.89 L224.7,149 L224.41,146.96 L224.07,144.92 L222.8,143.2 L221.47,141.93 L220.3,140.5 L218.9,139.3 L217.73,137.51 L218.05,135.46 L217.9,133.5 L219.25,131.8 L219.76,129.81 L219.9,127.7 L220.25,125.7 L220.2,123.75 L218.73,121.98 L218.9,120 L217.87,118.34 L217.57,116.52 L217.81,114.59 L217.4,112.8 L215.79,111.74 L214.23,110.56 L212.33,110.12 L210.54,109.45 L208.7,108.9 M524.9,343.3 L528.1,340.9 L530.5,340.1 L532.9,338.5 L535.3,336.9 L536.2,338.5 L537.0,340.9 L538.6,342.5 L541.0,343.3 L542.6,344.9 L544.2,346.5 L545.8,348.1 L547.4,349.7 L547.4,352.2 L546.6,354.6 L545.8,357.8 L544.2,360.2 L541.8,361.0 L539.4,361.8 L537.0,363.4 L535.3,365.8 L533.7,367.5 L532.1,366.6 L530.5,365.8 L528.1,364.2 L525.7,362.6 L524.1,360.2 L524.1,357.8 L524.9,355.4 L524.1,353.0 L524.9,350.5 L525.7,348.1 L524.9,345.7 Z M336.1,469.6 L342.5,467.7 L347.0,470.9 L347.7,477.4 L343.8,481.2 L337.4,481.9 L334.8,477.4 L334.8,472.2 Z M359.3,478.7 L363.1,476.1 L368.3,476.1 L372.2,477.4 L373.5,480.0 L370.2,482.5 L367.0,485.7 L363.1,486.4 L359.9,483.8 Z M372.2,474.8 L374.7,471.6 L378.6,472.2 L380.0,474.8 L380.0,482.5 L376.0,483.8 L372.2,481.2 L370.9,477.4 Z M544.0,228.6 L548.0,225.4 L552.9,224.6 L556.1,226.2 L555.3,230.3 L551.3,234.3 L546.4,235.9 L543.2,234.3 L542.4,231.1 Z M519.5,335.5 L523.0,336.5 L527.5,338.5 L527.0,340.0 L523.0,339.0 L519.5,337.5 Z M496.2,386.5 L500.1,385.3 L504.0,387.8 L507.8,390.4 L509.1,394.3 L505.3,395.6 L501.4,394.3 L497.5,391.7 Z M521.7,219.6 a5.8,2.2 0 1,0 11.6,0 a5.8,2.2 0 1,0 -11.6,0 Z M533.4,224.4 a3.2,1.8 0 1,0 6.4,0 a3.2,1.8 0 1,0 -6.4,0 Z M598.5,185.5 a4.5,3 0 1,0 9,0 a4.5,3 0 1,0 -9,0 Z M575.5,228.5 a3,3 0 1,0 6,0 a3,3 0 1,0 -6,0 Z M564.5,236.7 a2.5,2 0 1,0 5,0 a2.5,2 0 1,0 -5,0 Z M547.5,345.1 a1.8,1.5 0 1,0 3.6,0 a1.8,1.5 0 1,0 -3.6,0 Z M524.5,373 a2.5,3 0 1,0 5,0 a2.5,3 0 1,0 -5,0 Z M454.8,407.3 a3,4.5 0 1,0 6,0 a3,4.5 0 1,0 -6,0 Z M441.5,411 a2.5,2.5 0 1,0 5,0 a2.5,2.5 0 1,0 -5,0 Z M351.5,482 a2.5,1.9 0 1,0 5,0 a2.5,1.9 0 1,0 -5,0 Z M554.5,300.5 a3.5,2 0 1,0 7,0 a3.5,2 0 1,0 -7,0 Z M510.5,286.3 a5,3.3 0 1,0 10,0 a5,3.3 0 1,0 -10,0 Z M617,182 a1.5,1 0 1,0 3,0 a1.5,1 0 1,0 -3,0 Z M601.5,215 a2,1.5 0 1,0 4,0 a2,1.5 0 1,0 -4,0 Z M610.8,170 a1.2,1 0 1,0 2.4,0 a1.2,1 0 1,0 -2.4,0 Z M624,163 a1,0.8 0 1,0 2,0 a1,0.8 0 1,0 -2,0 Z M543.8,282 a1.2,1 0 1,0 2.4,0 a1.2,1 0 1,0 -2.4,0 Z M530.7,380.3 a1.8,1 0 1,0 3.6,0 a1.8,1 0 1,0 -3.6,0 Z M511,380 a1,0.8 0 1,0 2,0 a1,0.8 0 1,0 -2,0 Z M469,402 a1,0.8 0 1,0 2,0 a1,0.8 0 1,0 -2,0 Z M487.8,399 a1.2,0.8 0 1,0 2.4,0 a1.2,0.8 0 1,0 -2.4,0 Z M451,412 a1,0.8 0 1,0 2,0 a1,0.8 0 1,0 -2,0 Z M639,186 a1,0.8 0 1,0 2,0 a1,0.8 0 1,0 -2,0 Z M620.2,190 a0.8,0.8 0 1,0 1.6,0 a0.8,0.8 0 1,0 -1.6,0 Z M583,200 a1,0.8 0 1,0 2,0 a1,0.8 0 1,0 -2,0 Z M594.8,224 a1.2,0.9 0 1,0 2.4,0 a1.2,0.9 0 1,0 -2.4,0 Z" fill="none" stroke="#000" stroke-opacity="0.6" stroke-width="0.9" stroke-linejoin="round"/>
<g text-anchor="middle"><text transform="translate(245,116.5) scale(1,0.9)" y="4.7">光泽</text>
<text transform="translate(262,139.5) scale(1,0.9)" y="4.7">邵武</text>
<text transform="translate(328.5,88.9) scale(1,0.9)" y="4.7">武夷山</text>
<text transform="translate(388.5,70.5) scale(1,0.9)" y="4.7">浦城</text>
<text transform="translate(414,118.5) scale(1,0.9)" y="4.7">松溪</text>
<text transform="translate(422.5,134) scale(1,0.9)" y="4.7">政和</text>
<text transform="translate(501,125) scale(1,0.9)" y="4.7">寿宁</text>
<text transform="translate(485,161.5) scale(1,0.9)" y="4.7">周宁</text>
<text transform="translate(585,140) scale(1,0.9)" y="4.7">福鼎</text>
<text transform="translate(548,151.5) scale(1,0.9)" y="4.7">柘荣</text>
<text transform="translate(520.7,167.5) scale(1,0.9)" y="4.7">福安</text>
<text transform="translate(442,188.5) scale(1,0.9)" y="4.7">屏南</text>
<text transform="translate(564,192.5) scale(1,0.9)" y="4.7">霞浦</text>
<text transform="translate(337.5,139.5) scale(1,0.9)" y="4.7">建阳</text>
<text transform="translate(363,173) scale(1,0.9)" y="4.7">建瓯</text>
<text transform="translate(227,190.5) scale(1,0.9)" y="4.7">泰宁</text>
<text transform="translate(191,198.5) scale(1,0.9)" y="4.7">建宁</text>
<text transform="translate(264.8,213) scale(1,0.9)" y="4.7">将乐</text>
<text transform="translate(301.5,202.5) scale(1,0.9)" y="4.7">顺昌</text>
<text transform="translate(344.7,222) scale(1,0.9)" y="4.7">延平</text>
<text transform="translate(504,218.5) scale(1,0.9)" y="4.7">宁德</text>
<text transform="translate(412,228.5) scale(1,0.9)" y="4.7">古田</text>
<text transform="translate(509,238.5) scale(1,0.9)" y="4.7">罗源</text>
<text transform="translate(225,249.5) scale(1,0.9)" y="4.7">明溪</text>
<text transform="translate(302.2,250.4) scale(1,0.9)" y="4.7">沙县</text>
<text transform="translate(282.8,264.5) scale(1,0.9)" y="4.7">三明</text>
<text transform="translate(163,269.5) scale(1,0.9)" y="4.7">宁化</text>
<text transform="translate(192,274.5) scale(1,0.9)" y="4.7">清流</text>
<text transform="translate(343.4,280) scale(1,0.9)" y="4.7">尤溪</text>
<text transform="translate(427.5,271.2) scale(1,0.9)" y="4.7">闽清</text>
<text transform="translate(461.7,277.5) scale(1,0.9)" y="4.7">闽侯</text>
<text transform="translate(509,273.5) scale(1,0.9)" y="4.7">连江</text>
<text transform="translate(477,287.5) scale(1,0.9)" y="4.7">福州</text>
<text transform="translate(250,301.5) scale(1,0.9)" y="4.7">永安</text>
<text transform="translate(503,301) scale(1,0.9)" y="4.7">长乐</text>
<text transform="translate(435.7,312.8) scale(1,0.9)" y="4.7">永泰</text>
<text transform="translate(132,315.2) scale(1,0.9)" y="4.7">长汀</text>
<text transform="translate(175.5,330.5) scale(1,0.9)" y="4.7">连城</text>
<text transform="translate(305.6,332.3) scale(1,0.9)" y="4.7">大田</text>
<text transform="translate(488.7,335) scale(1,0.9)" y="4.7">福清</text>
<text transform="translate(352.9,354.3) scale(1,0.9)" y="4.7">德化</text>
<text transform="translate(536,355.5) scale(1,0.9)" y="4.7">平潭</text>
<text transform="translate(443.4,362.2) scale(1,0.9)" y="4.7">莆田</text>
<text transform="translate(412.5,372.8) scale(1,0.9)" y="4.7">仙游</text>
<text transform="translate(357.3,375.6) scale(1,0.9)" y="4.7">永春</text>
<text transform="translate(258,383.3) scale(1,0.9)" y="4.7">漳平</text>
<text transform="translate(100.5,406) scale(1,0.9)" y="4.7">武平</text>
<text transform="translate(140,408.1) scale(1,0.9)" y="4.7">上杭</text>
<text transform="translate(209,409.8) scale(1,0.9)" y="4.7">龙岩</text>
<text transform="translate(270.5,413.5) scale(1,0.9)" y="4.7">华安</text>
<text transform="translate(348.8,407.7) scale(1,0.9)" y="4.7">安溪</text>
<text transform="translate(368.8,419) scale(1,0.9)" y="4.7">南安</text>
<text transform="translate(433.4,427) scale(1,0.9)" y="4.7">崇武</text>
<text transform="translate(346.4,442.2) scale(1,0.9)" y="4.7">同安</text>
<text transform="translate(390.5,438.7) scale(1,0.9)" y="4.7">晋江</text>
<text transform="translate(173.4,446.7) scale(1,0.9)" y="4.7">永定</text>
<text transform="translate(301,450.5) scale(1,0.9)" y="4.7">长泰</text>
<text transform="translate(281,464.3) scale(1,0.9)" y="4.7">漳州</text>
<text transform="translate(252.3,472.5) scale(1,0.9)" y="4.7">南靖</text>
<text transform="translate(242.7,488.3) scale(1,0.9)" y="4.7">平和</text>
<text transform="translate(333,475.7) scale(1,0.9)" y="4.7">厦门</text>
<text transform="translate(305,481.8) scale(1,0.9)" y="4.7">龙海</text>
<text transform="translate(275.6,517.2) scale(1,0.9)" y="4.7">漳浦</text>
<text transform="translate(245.5,535.2) scale(1,0.9)" y="4.7">云霄</text>
<text transform="translate(223.1,562.1) scale(1,0.9)" y="4.7">诏安</text>
<text transform="translate(268.8,564.2) scale(1,0.9)" y="4.7">东山</text></g>
<rect x="54" y="2.6" width="602.5" height="590" fill="none" stroke="#000" stroke-width="2"/>
<line x1="48.5" y1="61.3" x2="54" y2="61.3" stroke="#000" stroke-width="1"/><text class="ax" x="48.5" y="69.8" text-anchor="end">28°N</text><line x1="48.5" y1="179.3" x2="54" y2="179.3" stroke="#000" stroke-width="1"/><text class="ax" x="48.5" y="187.8" text-anchor="end">27°N</text><line x1="48.5" y1="297.3" x2="54" y2="297.3" stroke="#000" stroke-width="1"/><text class="ax" x="48.5" y="305.8" text-anchor="end">26°N</text><line x1="48.5" y1="415.3" x2="54" y2="415.3" stroke="#000" stroke-width="1"/><text class="ax" x="48.5" y="423.8" text-anchor="end">25°N</text><line x1="48.5" y1="533.3" x2="54" y2="533.3" stroke="#000" stroke-width="1"/><text class="ax" x="48.5" y="541.8" text-anchor="end">24°N</text><line x1="89" y1="593" x2="89" y2="598.5" stroke="#000" stroke-width="1"/><text class="ax" x="89" y="616.8" text-anchor="middle">116°E</text><line x1="207.3" y1="593" x2="207.3" y2="598.5" stroke="#000" stroke-width="1"/><text class="ax" x="207.3" y="616.8" text-anchor="middle">117°E</text><line x1="325.6" y1="593" x2="325.6" y2="598.5" stroke="#000" stroke-width="1"/><text class="ax" x="325.6" y="616.8" text-anchor="middle">118°E</text><line x1="443.9" y1="593" x2="443.9" y2="598.5" stroke="#000" stroke-width="1"/><text class="ax" x="443.9" y="616.8" text-anchor="middle">119°E</text><line x1="562.2" y1="593" x2="562.2" y2="598.5" stroke="#000" stroke-width="1"/><text class="ax" x="562.2" y="616.8" text-anchor="middle">120°E</text>
<rect x="550.5" y="498.6" width="23.5" height="9.6" fill="#6c0017" stroke="#555" stroke-width="0.8"/><text class="lg" x="581.6" y="508.9">特旱</text><text class="lg" x="611.2" y="508.9">站数1</text><rect x="550.5" y="516.8" width="23.5" height="9.6" fill="#fe0000" stroke="#555" stroke-width="0.8"/><text class="lg" x="581.6" y="527.1">重旱</text><text class="lg" x="611.2" y="527.1">站数17</text><rect x="550.5" y="535.0" width="23.5" height="9.6" fill="#fb952f" stroke="#555" stroke-width="0.8"/><text class="lg" x="581.6" y="545.3">中旱</text><text class="lg" x="611.2" y="545.3">站数32</text><rect x="550.5" y="553.2" width="23.5" height="9.6" fill="#ffff99" stroke="#555" stroke-width="0.8"/><text class="lg" x="581.6" y="563.5">轻旱</text><text class="lg" x="611.2" y="563.5">站数15</text><rect x="550.5" y="571.4" width="23.5" height="9.6" fill="#ffffff" stroke="#aaa" stroke-width="0.8"/><text class="lg" x="581.6" y="581.7">无旱</text><text class="lg" x="611.2" y="581.7">站数1</text>
<text class="t1" x="129.5" y="569.5" text-anchor="middle">福建省气候中心</text>
<text class="t2" x="61.1 73.6 86.2" y="585">审图号</text><text class="t2" x="182.1" y="585">号</text><text class="t2" x="99.1 105.4 114.5 119.2 125.6 133 139.9 146.1 153.8 160.9 167.6 174.4" y="585" stroke="#000" stroke-width="0.45">GS(2019)3266</text>
</svg>
</body></html>
